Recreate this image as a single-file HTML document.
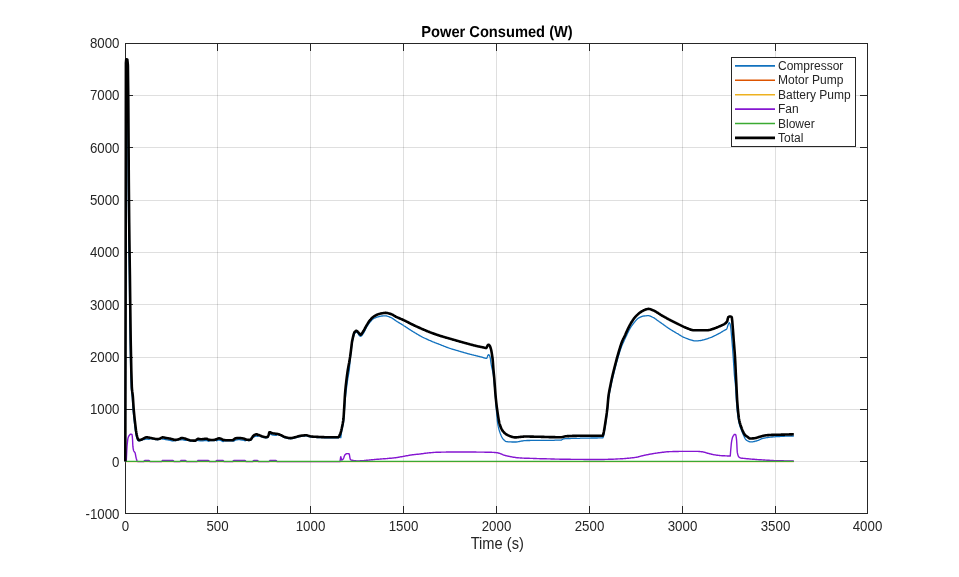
<!DOCTYPE html>
<html><head><meta charset="utf-8"><style>
html,body{margin:0;padding:0;background:#fff;width:959px;height:577px;overflow:hidden;}
svg{display:block;will-change:transform;}
text{font-family:"Liberation Sans",sans-serif;}
</style></head><body>
<svg width="959" height="577" viewBox="0 0 959 577"><rect x="0" y="0" width="959" height="577" fill="#ffffff"/><path d="M217.5,43 V513" stroke="#262626" stroke-opacity="0.15" stroke-width="1" fill="none" shape-rendering="crispEdges"/><path d="M310.5,43 V513" stroke="#262626" stroke-opacity="0.15" stroke-width="1" fill="none" shape-rendering="crispEdges"/><path d="M403.5,43 V513" stroke="#262626" stroke-opacity="0.15" stroke-width="1" fill="none" shape-rendering="crispEdges"/><path d="M496.5,43 V513" stroke="#262626" stroke-opacity="0.15" stroke-width="1" fill="none" shape-rendering="crispEdges"/><path d="M589.5,43 V513" stroke="#262626" stroke-opacity="0.15" stroke-width="1" fill="none" shape-rendering="crispEdges"/><path d="M682.5,43 V513" stroke="#262626" stroke-opacity="0.15" stroke-width="1" fill="none" shape-rendering="crispEdges"/><path d="M775.5,43 V513" stroke="#262626" stroke-opacity="0.15" stroke-width="1" fill="none" shape-rendering="crispEdges"/><path d="M125,95.5 H867" stroke="#262626" stroke-opacity="0.15" stroke-width="1" fill="none" shape-rendering="crispEdges"/><path d="M125,147.5 H867" stroke="#262626" stroke-opacity="0.15" stroke-width="1" fill="none" shape-rendering="crispEdges"/><path d="M125,200.5 H867" stroke="#262626" stroke-opacity="0.15" stroke-width="1" fill="none" shape-rendering="crispEdges"/><path d="M125,252.5 H867" stroke="#262626" stroke-opacity="0.15" stroke-width="1" fill="none" shape-rendering="crispEdges"/><path d="M125,304.5 H867" stroke="#262626" stroke-opacity="0.15" stroke-width="1" fill="none" shape-rendering="crispEdges"/><path d="M125,357.5 H867" stroke="#262626" stroke-opacity="0.15" stroke-width="1" fill="none" shape-rendering="crispEdges"/><path d="M125,409.5 H867" stroke="#262626" stroke-opacity="0.15" stroke-width="1" fill="none" shape-rendering="crispEdges"/><path d="M125,461.5 H867" stroke="#262626" stroke-opacity="0.15" stroke-width="1" fill="none" shape-rendering="crispEdges"/><path d="M125.5,43.5 H867.5 V513.5 H125.5 Z M125.5,513 v-7 M125.5,44 v7 M217.5,513 v-7 M217.5,44 v7 M310.5,513 v-7 M310.5,44 v7 M403.5,513 v-7 M403.5,44 v7 M496.5,513 v-7 M496.5,44 v7 M589.5,513 v-7 M589.5,44 v7 M682.5,513 v-7 M682.5,44 v7 M775.5,513 v-7 M775.5,44 v7 M867.5,513 v-7 M867.5,44 v7 M126,43.5 h7 M867,43.5 h-7 M126,95.5 h7 M867,95.5 h-7 M126,147.5 h7 M867,147.5 h-7 M126,200.5 h7 M867,200.5 h-7 M126,252.5 h7 M867,252.5 h-7 M126,304.5 h7 M867,304.5 h-7 M126,357.5 h7 M867,357.5 h-7 M126,409.5 h7 M867,409.5 h-7 M126,461.5 h7 M867,461.5 h-7 M126,513.5 h7 M867,513.5 h-7" stroke="#262626" stroke-width="1" fill="none" shape-rendering="crispEdges"/><g fill="none" stroke-linejoin="round" stroke-linecap="butt"><path d="M125.3,461.5 L125.6,300.7 L125.8,150.8 L125.9,63.9 L126.2,60.7 L126.3,61.1 L126.8,71.3 L127.0,61.8 L127.3,66.5 L127.8,113.9 L127.9,130.6 L128.3,192.4 L128.8,240.5 L129.2,268.4 L129.3,275.5 L129.4,283.4 L129.8,318.8 L129.9,327.0 L130.3,351.3 L130.7,370.6 L130.8,374.7 L131.3,388.5 L131.8,393.2 L131.9,393.9 L132.0,394.6 L132.3,397.7 L132.6,402.3 L132.8,405.6 L132.9,407.2 L133.3,412.2 L133.7,416.2 L133.8,417.2 L134.3,421.6 L134.8,426.1 L135.0,427.8 L135.1,428.6 L135.3,430.2 L135.8,433.5 L136.0,434.5 L136.3,436.0 L136.8,437.9 L137.0,438.5 L137.3,439.3 L137.6,440.0 L137.8,440.4 L138.0,440.6 L138.3,440.7 L138.8,440.8 L138.8,440.8 L139.3,440.8 L139.8,440.7 L140.3,440.6 L140.8,440.4 L141.0,440.4 L141.2,440.3 L141.3,440.3 L141.8,440.1 L142.3,439.8 L142.8,439.6 L143.1,439.4 L143.3,439.3 L143.6,439.1 L143.8,439.1 L144.3,439.4 L144.8,439.5 L145.3,439.2 L145.8,439.1 L146.2,439.0 L146.3,439.0 L146.8,439.0 L147.3,439.1 L147.8,439.1 L148.3,439.2 L148.8,439.3 L149.0,439.3 L149.3,439.2 L149.4,439.1 L149.8,438.7 L150.2,438.4 L150.3,438.5 L150.8,438.6 L151.3,438.7 L151.8,438.8 L152.3,438.9 L152.8,439.0 L153.3,439.1 L153.8,439.2 L153.8,439.2 L154.3,439.3 L154.8,439.4 L155.3,439.5 L155.8,439.6 L156.3,439.6 L156.8,439.7 L157.3,439.7 L157.5,439.7 L157.8,439.7 L158.3,439.6 L158.8,439.5 L159.3,439.4 L159.8,439.3 L160.0,439.2 L160.3,439.1 L160.8,438.8 L161.3,438.5 L161.8,438.6 L162.3,439.0 L162.5,439.1 L162.8,439.1 L163.3,439.1 L163.8,439.2 L164.3,439.3 L164.8,439.4 L165.3,439.5 L165.8,439.6 L166.2,439.7 L166.3,439.7 L166.8,439.8 L167.3,439.9 L167.8,439.9 L168.3,440.0 L168.8,440.1 L169.3,440.2 L169.8,440.3 L170.0,440.3 L170.3,440.4 L170.8,440.5 L171.3,440.6 L171.8,440.8 L172.3,440.9 L172.5,440.9 L172.8,441.0 L173.0,441.1 L173.3,441.0 L173.8,440.6 L174.2,440.4 L174.3,440.4 L174.8,440.5 L175.0,440.5 L175.3,440.5 L175.8,440.5 L176.3,440.4 L176.8,440.3 L177.3,440.2 L177.8,440.1 L178.3,440.0 L178.8,439.8 L178.8,439.8 L179.3,439.7 L179.8,439.4 L180.3,439.6 L180.8,439.9 L181.0,439.9 L181.3,439.8 L181.8,439.7 L181.9,439.7 L182.3,439.7 L182.8,439.8 L183.3,439.9 L183.8,440.0 L184.3,440.1 L184.8,440.2 L185.0,440.3 L185.3,440.4 L185.5,440.4 L185.8,440.4 L186.3,439.9 L186.7,439.8 L186.8,439.9 L187.3,440.1 L187.8,440.3 L188.1,440.3 L188.3,440.4 L188.8,440.6 L189.3,440.7 L189.8,440.9 L190.3,441.0 L190.8,441.1 L191.2,441.1 L191.3,441.1 L191.8,441.1 L192.3,441.1 L192.8,441.2 L193.3,441.2 L193.8,441.2 L194.3,441.2 L194.8,441.2 L195.0,441.2 L195.3,441.2 L195.8,440.9 L196.3,440.6 L196.8,440.1 L197.3,440.2 L197.8,440.6 L198.0,440.6 L198.1,440.6 L198.3,440.6 L198.8,440.6 L199.3,440.7 L199.8,440.8 L200.3,440.9 L200.8,440.9 L201.2,440.9 L201.3,440.9 L201.8,440.9 L202.3,440.9 L202.8,440.8 L203.3,440.8 L203.8,440.7 L204.3,440.6 L204.8,440.6 L205.3,440.5 L205.8,440.5 L206.2,440.4 L206.3,440.5 L206.8,440.5 L207.3,440.7 L207.8,441.0 L208.3,441.3 L208.4,441.3 L208.8,441.2 L209.3,440.7 L209.4,440.6 L209.6,440.5 L209.8,440.5 L210.3,440.5 L210.8,440.6 L211.3,440.6 L211.8,440.6 L212.3,440.6 L212.8,440.6 L213.0,440.6 L213.3,440.6 L213.8,440.5 L214.3,440.5 L214.8,440.4 L215.3,440.3 L215.6,440.2 L215.6,440.2 L215.8,440.2 L216.3,440.6 L216.8,440.8 L217.3,440.5 L217.8,440.2 L218.3,440.1 L218.8,440.0 L218.8,440.0 L219.3,440.0 L219.8,440.1 L220.3,440.3 L220.8,440.4 L221.2,440.6 L221.3,440.6 L221.8,440.9 L222.3,441.2 L222.8,441.5 L223.0,441.6 L223.1,441.6 L223.3,441.5 L223.8,440.9 L224.2,440.7 L224.3,440.7 L224.8,440.7 L225.3,440.8 L225.8,440.8 L226.2,440.8 L226.3,440.8 L226.8,440.8 L227.3,440.8 L227.8,440.8 L228.3,440.8 L228.8,440.8 L229.3,440.8 L229.8,440.8 L230.3,440.8 L230.8,440.8 L231.3,440.8 L231.8,440.8 L232.3,440.8 L232.5,440.8 L232.6,440.8 L232.8,440.8 L233.3,441.2 L233.8,441.2 L234.3,440.8 L234.8,440.4 L235.3,440.1 L235.6,440.0 L235.8,440.0 L236.3,439.9 L236.8,439.8 L237.3,439.8 L237.8,439.7 L238.3,439.7 L238.8,439.7 L238.8,439.7 L239.3,439.7 L239.8,439.7 L240.3,439.8 L240.8,439.8 L241.3,439.9 L241.8,440.0 L242.3,440.0 L242.8,440.1 L243.3,440.2 L243.8,440.3 L243.8,440.3 L244.3,440.5 L244.8,440.7 L245.0,440.8 L245.3,440.8 L245.8,440.4 L246.2,440.2 L246.2,440.2 L246.3,440.2 L246.8,440.3 L247.3,440.4 L247.8,440.4 L248.3,440.5 L248.8,440.5 L249.3,440.5 L249.8,440.4 L250.3,440.3 L250.6,440.2 L250.8,440.1 L251.3,439.5 L251.8,438.6 L252.3,437.8 L252.5,437.5 L252.6,437.4 L252.8,437.2 L253.3,437.2 L253.8,437.1 L254.3,436.8 L254.4,436.7 L254.8,436.5 L255.3,436.3 L255.8,436.1 L256.2,436.1 L256.3,436.1 L256.8,436.1 L257.3,436.3 L257.5,436.3 L257.8,436.2 L258.2,435.8 L258.3,435.7 L258.7,435.6 L258.8,435.6 L259.3,435.8 L259.8,436.0 L260.3,436.2 L260.8,436.4 L261.3,436.7 L261.8,436.9 L262.3,437.0 L262.5,437.1 L262.8,437.2 L263.3,437.3 L263.8,437.5 L264.3,437.6 L264.8,437.7 L265.3,437.8 L265.6,437.8 L265.8,437.8 L266.3,437.8 L266.8,437.7 L267.3,437.6 L267.5,437.6 L267.8,437.4 L268.3,436.3 L268.8,435.0 L269.3,433.3 L269.4,433.3 L269.8,433.9 L270.0,434.0 L270.2,434.0 L270.3,434.0 L270.8,434.2 L271.3,434.5 L271.8,434.8 L271.9,434.8 L272.3,434.9 L272.8,435.0 L273.3,435.1 L273.8,435.2 L274.3,435.2 L274.8,435.3 L275.3,435.4 L275.8,435.4 L276.0,435.4 L276.3,435.3 L276.8,434.7 L277.2,434.5 L277.3,434.5 L277.8,434.6 L278.1,434.7 L278.3,434.7 L278.8,434.9 L279.3,435.1 L279.8,435.3 L280.3,435.5 L280.8,435.7 L281.3,435.9 L281.8,436.1 L282.3,436.4 L282.8,436.7 L283.3,437.0 L283.8,437.3 L284.3,437.5 L284.4,437.5 L284.8,437.6 L285.3,437.8 L285.8,437.9 L286.3,438.0 L286.8,438.2 L287.3,438.3 L287.8,438.4 L288.3,438.5 L288.8,438.6 L289.3,438.6 L289.8,438.7 L290.3,438.7 L290.6,438.7 L290.8,438.7 L291.3,438.7 L291.8,438.6 L292.3,438.5 L292.8,438.4 L293.3,438.3 L293.8,438.2 L294.3,438.1 L294.8,437.9 L295.0,437.9 L295.3,437.8 L295.8,437.7 L296.3,437.5 L296.8,437.4 L297.3,437.2 L297.8,437.1 L298.3,436.9 L298.8,436.8 L299.3,436.6 L299.8,436.5 L300.0,436.5 L300.3,436.5 L300.8,436.4 L301.3,436.3 L301.8,436.2 L302.3,436.2 L302.8,436.1 L303.3,436.1 L303.8,436.0 L304.3,436.0 L304.8,435.9 L305.3,435.9 L305.8,435.9 L306.2,435.9 L306.3,435.9 L306.8,435.9 L307.3,436.0 L307.8,436.2 L308.3,436.4 L308.8,436.5 L309.3,436.7 L309.8,436.8 L310.0,436.8 L310.3,436.9 L310.8,437.0 L311.3,437.1 L311.8,437.1 L312.3,437.2 L312.6,437.2 L312.8,437.2 L313.3,437.3 L313.8,437.3 L314.3,437.3 L314.8,437.4 L315.3,437.4 L315.8,437.4 L316.3,437.4 L316.8,437.5 L317.3,437.5 L317.8,437.5 L318.3,437.5 L318.8,437.6 L319.3,437.6 L319.8,437.6 L320.3,437.6 L320.8,437.6 L321.3,437.7 L321.8,437.7 L322.3,437.7 L322.6,437.7 L322.8,437.7 L323.3,437.7 L323.8,437.7 L324.3,437.8 L324.8,437.8 L325.3,437.8 L325.8,437.8 L326.3,437.8 L326.8,437.8 L327.3,437.8 L327.8,437.9 L328.3,437.9 L328.8,437.9 L329.3,437.9 L329.8,437.9 L330.3,437.9 L330.8,437.9 L331.3,437.9 L331.4,437.9 L331.8,437.9 L332.3,437.9 L332.8,437.9 L333.3,437.9 L333.8,437.9 L334.3,437.9 L334.8,437.9 L335.3,437.9 L335.8,437.9 L336.3,437.9 L336.8,437.9 L337.3,437.9 L337.8,437.9 L338.3,437.9 L338.8,437.4 L339.3,436.5 L339.5,436.1 L339.8,435.5 L339.9,435.3 L340.3,436.3 L340.5,437.3 L340.8,437.7 L341.3,433.9 L341.7,430.8 L341.8,430.4 L342.3,428.2 L342.8,426.1 L343.1,424.7 L343.3,423.5 L343.5,422.3 L343.8,419.0 L344.1,414.8 L344.3,412.0 L344.8,404.3 L345.0,401.7 L345.3,398.4 L345.8,393.8 L346.2,390.5 L346.3,389.7 L346.8,385.7 L346.9,384.9 L347.3,382.0 L347.8,378.6 L348.3,375.6 L348.8,372.9 L349.2,370.7 L349.3,370.0 L349.7,365.3 L349.8,364.0 L350.2,359.3 L350.3,358.4 L350.8,354.2 L350.9,353.3 L351.3,349.8 L351.6,347.0 L351.8,345.3 L352.1,343.2 L352.3,342.1 L352.8,339.8 L353.3,337.5 L353.8,335.5 L354.3,334.1 L354.4,333.9 L354.8,333.4 L355.3,332.8 L355.8,332.4 L356.3,332.2 L356.4,332.1 L356.8,332.2 L357.3,332.6 L357.8,333.2 L358.1,333.5 L358.3,334.0 L358.8,334.9 L359.3,335.5 L359.8,336.0 L360.3,336.3 L360.6,336.3 L360.8,336.3 L361.3,336.0 L361.8,335.5 L362.3,334.9 L362.8,334.2 L363.3,333.5 L363.8,332.7 L364.3,331.8 L364.8,330.8 L365.3,329.7 L365.8,328.6 L366.3,327.6 L366.7,326.9 L366.8,326.7 L367.3,325.9 L367.5,325.6 L367.8,325.2 L368.3,324.4 L368.8,323.7 L369.3,323.1 L369.8,322.4 L370.0,322.2 L370.3,321.8 L370.8,321.2 L371.3,320.7 L371.8,320.1 L372.3,319.6 L372.8,319.2 L373.3,318.8 L373.8,318.5 L374.3,318.2 L374.8,318.0 L375.3,317.8 L375.8,317.6 L376.3,317.4 L376.8,317.2 L376.9,317.2 L377.3,317.0 L377.8,316.9 L378.3,316.8 L378.8,316.6 L379.3,316.5 L379.8,316.4 L380.3,316.3 L380.8,316.2 L381.3,316.1 L381.8,316.0 L382.0,316.0 L382.3,316.0 L382.8,315.9 L383.3,315.9 L383.8,315.8 L384.3,315.8 L384.8,315.8 L385.3,315.8 L385.8,315.8 L386.3,315.9 L386.8,316.0 L387.3,316.2 L387.8,316.3 L388.3,316.5 L388.8,316.7 L389.3,316.9 L389.8,317.1 L390.3,317.3 L390.8,317.5 L391.3,317.7 L391.8,318.0 L392.3,318.3 L392.8,318.6 L393.3,318.9 L393.8,319.3 L394.3,319.6 L394.8,320.0 L395.3,320.4 L395.7,320.6 L395.8,320.7 L396.3,321.0 L396.7,321.3 L396.8,321.4 L397.3,321.7 L397.8,322.0 L398.3,322.3 L398.8,322.6 L399.3,322.9 L399.8,323.2 L400.3,323.5 L400.8,323.8 L401.3,324.1 L401.8,324.4 L402.3,324.7 L402.8,325.0 L403.2,325.3 L403.3,325.3 L403.4,325.4 L403.8,325.7 L404.3,326.0 L404.8,326.3 L405.3,326.6 L405.8,326.9 L406.3,327.3 L406.8,327.6 L407.3,327.9 L407.8,328.3 L408.3,328.6 L408.8,328.9 L409.3,329.3 L409.8,329.6 L410.3,329.9 L410.8,330.2 L411.3,330.5 L411.8,330.9 L412.3,331.2 L412.5,331.3 L412.8,331.5 L413.3,331.8 L413.8,332.1 L414.3,332.4 L414.8,332.7 L415.3,333.0 L415.8,333.3 L416.3,333.6 L416.8,333.9 L417.3,334.2 L417.8,334.5 L418.3,334.8 L418.8,335.1 L419.3,335.4 L419.8,335.7 L420.0,335.8 L420.3,336.0 L420.8,336.2 L421.3,336.5 L421.7,336.7 L421.8,336.8 L422.3,337.0 L422.8,337.3 L423.3,337.5 L423.8,337.8 L424.3,338.0 L424.8,338.2 L425.3,338.5 L425.8,338.7 L426.3,338.9 L426.8,339.2 L427.3,339.4 L427.8,339.6 L428.3,339.8 L428.8,340.1 L429.3,340.3 L429.4,340.3 L429.8,340.5 L430.3,340.7 L430.8,340.9 L431.3,341.1 L431.7,341.3 L431.8,341.3 L432.3,341.6 L432.8,341.8 L433.3,342.0 L433.8,342.2 L434.3,342.4 L434.8,342.6 L435.3,342.8 L435.8,343.0 L436.3,343.2 L436.8,343.4 L437.3,343.6 L437.8,343.7 L438.3,343.9 L438.8,344.1 L439.3,344.3 L439.8,344.5 L440.3,344.7 L440.8,344.9 L441.3,345.1 L441.7,345.3 L441.8,345.3 L442.3,345.5 L442.8,345.7 L443.3,345.9 L443.8,346.1 L444.3,346.3 L444.8,346.5 L445.3,346.7 L445.8,346.9 L446.3,347.1 L446.8,347.3 L447.3,347.4 L447.8,347.6 L448.3,347.8 L448.8,348.0 L449.3,348.2 L449.8,348.3 L450.0,348.4 L450.3,348.5 L450.8,348.7 L451.3,348.8 L451.8,349.0 L452.3,349.1 L452.8,349.3 L453.3,349.4 L453.8,349.6 L454.3,349.7 L454.8,349.9 L455.3,350.0 L455.8,350.2 L456.3,350.3 L456.8,350.4 L457.3,350.6 L457.8,350.7 L458.3,350.9 L458.7,351.0 L458.8,351.0 L459.3,351.2 L459.8,351.3 L460.3,351.5 L460.8,351.6 L461.3,351.8 L461.8,351.9 L462.3,352.1 L462.8,352.2 L463.3,352.4 L463.8,352.5 L464.3,352.7 L464.8,352.8 L465.3,352.9 L465.8,353.1 L466.3,353.2 L466.8,353.4 L466.9,353.4 L467.3,353.5 L467.8,353.6 L468.3,353.8 L468.8,353.9 L469.3,354.0 L469.8,354.2 L470.3,354.3 L470.8,354.4 L471.3,354.5 L471.8,354.7 L472.3,354.8 L472.8,354.9 L473.3,355.0 L473.8,355.2 L474.3,355.3 L474.8,355.4 L475.3,355.5 L475.8,355.6 L476.0,355.7 L476.3,355.8 L476.8,355.9 L477.3,356.0 L477.8,356.1 L478.3,356.3 L478.8,356.4 L479.3,356.5 L479.8,356.6 L480.3,356.8 L480.8,356.9 L481.0,356.9 L481.3,357.0 L481.8,357.1 L482.2,357.2 L482.3,357.3 L482.8,357.4 L483.3,357.6 L483.8,357.8 L484.3,357.9 L484.8,358.1 L485.3,358.2 L485.8,358.3 L486.3,358.4 L486.8,358.2 L487.3,357.0 L487.6,356.1 L487.8,355.6 L488.3,354.7 L488.4,354.7 L488.8,354.8 L489.3,355.3 L489.7,355.9 L489.8,356.1 L490.3,358.0 L490.5,359.4 L490.8,362.0 L491.3,364.9 L491.8,367.4 L492.0,368.3 L492.3,369.6 L492.6,370.9 L492.8,371.8 L493.3,374.5 L493.4,375.1 L493.8,378.4 L494.3,383.7 L494.4,384.8 L494.8,389.2 L494.9,390.4 L495.0,391.6 L495.3,395.2 L495.8,401.7 L495.9,403.1 L496.3,408.9 L496.8,414.9 L497.3,420.4 L497.4,421.3 L497.8,424.1 L498.3,426.7 L498.8,428.8 L499.3,430.6 L499.5,431.2 L499.7,431.8 L499.8,432.1 L500.3,433.5 L500.8,434.7 L501.3,435.9 L501.8,437.0 L502.3,437.9 L502.6,438.4 L502.8,438.7 L503.3,439.3 L503.8,439.8 L504.3,440.3 L504.4,440.4 L504.8,440.7 L505.3,441.1 L505.8,441.4 L506.3,441.6 L506.8,441.7 L507.3,441.7 L507.4,441.7 L507.8,441.8 L508.3,441.8 L508.8,441.8 L509.3,441.9 L509.8,441.9 L510.0,441.9 L510.3,441.9 L510.8,441.9 L511.3,441.9 L511.8,442.0 L512.3,442.0 L512.8,442.0 L513.3,442.0 L513.8,442.0 L514.3,442.0 L514.7,442.0 L514.8,442.0 L515.3,442.0 L515.8,442.0 L516.3,442.0 L516.8,441.9 L517.3,441.8 L517.8,441.8 L518.3,441.7 L518.8,441.6 L519.3,441.5 L519.4,441.5 L519.8,441.4 L520.3,441.3 L520.8,441.2 L521.3,441.1 L521.4,441.1 L521.8,441.0 L522.3,441.0 L522.8,440.9 L523.3,440.8 L523.8,440.7 L524.3,440.7 L524.8,440.6 L525.2,440.6 L525.3,440.6 L525.8,440.6 L526.3,440.6 L526.8,440.5 L527.3,440.5 L527.8,440.5 L528.3,440.5 L528.8,440.5 L529.3,440.5 L529.8,440.5 L530.3,440.4 L530.8,440.4 L531.3,440.4 L531.8,440.4 L532.3,440.4 L532.8,440.4 L533.3,440.4 L533.8,440.4 L534.3,440.4 L534.8,440.4 L535.3,440.4 L535.6,440.4 L535.8,440.3 L536.3,440.3 L536.8,440.3 L537.3,440.3 L537.8,440.3 L538.1,440.3 L538.3,440.3 L538.8,440.3 L539.3,440.3 L539.8,440.3 L540.3,440.3 L540.8,440.3 L541.3,440.3 L541.8,440.3 L542.3,440.3 L542.8,440.3 L543.3,440.3 L543.8,440.3 L544.3,440.3 L544.8,440.3 L545.3,440.3 L545.8,440.3 L546.3,440.3 L546.8,440.3 L547.3,440.3 L547.8,440.3 L548.3,440.3 L548.8,440.3 L549.3,440.3 L549.8,440.3 L550.3,440.3 L550.8,440.3 L551.3,440.3 L551.8,440.3 L552.3,440.3 L552.8,440.3 L553.3,440.3 L553.8,440.3 L554.3,440.3 L554.8,440.2 L555.3,440.2 L555.8,440.2 L556.3,440.2 L556.8,440.2 L556.9,440.2 L557.3,440.2 L557.8,440.2 L558.3,440.2 L558.8,440.2 L559.3,440.2 L559.8,440.2 L560.3,440.2 L560.8,440.2 L561.3,440.1 L561.7,439.9 L561.8,439.8 L562.3,439.5 L562.8,439.2 L563.3,438.9 L563.8,438.8 L564.3,438.8 L564.8,438.7 L565.3,438.7 L565.8,438.7 L565.9,438.7 L566.3,438.6 L566.8,438.6 L567.3,438.6 L567.8,438.6 L568.3,438.5 L568.8,438.5 L569.3,438.5 L569.8,438.5 L570.3,438.5 L570.8,438.4 L571.3,438.4 L571.8,438.4 L572.3,438.4 L572.8,438.4 L573.3,438.4 L573.8,438.4 L574.3,438.3 L574.8,438.3 L575.3,438.3 L575.7,438.3 L575.8,438.3 L576.3,438.3 L576.8,438.3 L577.3,438.3 L577.8,438.3 L578.3,438.3 L578.8,438.3 L579.3,438.3 L579.8,438.3 L580.3,438.2 L580.8,438.2 L581.3,438.2 L581.8,438.2 L582.3,438.2 L582.6,438.2 L582.8,438.2 L583.3,438.2 L583.8,438.2 L584.3,438.2 L584.8,438.2 L585.3,438.1 L585.8,438.1 L586.3,438.1 L586.8,438.1 L587.3,438.1 L587.8,438.1 L588.3,438.1 L588.8,438.1 L589.3,438.1 L589.8,438.1 L590.3,438.1 L590.8,438.0 L591.3,438.0 L591.8,438.0 L592.3,438.0 L592.8,438.0 L593.3,438.0 L593.8,438.0 L594.3,438.0 L594.8,438.0 L595.3,438.0 L595.8,438.0 L596.3,438.0 L596.8,438.0 L597.3,438.0 L597.8,437.9 L598.3,437.9 L598.8,437.9 L599.3,437.9 L599.8,437.9 L600.0,437.9 L600.3,437.9 L600.8,437.9 L601.3,437.9 L601.8,437.9 L602.3,437.9 L602.6,437.9 L602.8,437.9 L603.3,437.0 L603.8,434.9 L604.3,432.0 L604.8,429.1 L605.3,425.8 L605.6,423.8 L605.8,422.5 L606.3,419.2 L606.8,415.7 L607.2,412.1 L607.3,411.7 L607.8,406.2 L608.3,400.6 L608.5,398.9 L608.8,396.8 L609.3,393.9 L609.8,391.3 L610.1,389.8 L610.3,388.8 L610.8,386.3 L611.3,384.0 L611.8,381.7 L612.3,379.5 L612.8,377.4 L613.3,375.4 L613.8,373.4 L614.3,371.4 L614.8,369.5 L614.9,369.1 L615.3,367.6 L615.8,365.6 L616.3,363.7 L616.8,361.9 L617.2,360.4 L617.3,360.1 L617.8,358.3 L618.3,356.6 L618.8,354.9 L619.3,353.3 L619.8,351.6 L620.3,350.1 L620.7,348.9 L620.8,348.6 L621.3,347.2 L621.8,345.8 L622.3,344.7 L622.7,343.8 L622.8,343.6 L623.3,342.5 L623.8,341.4 L624.3,340.3 L624.5,339.8 L624.8,339.2 L625.3,338.1 L625.8,337.0 L626.3,336.0 L626.8,334.9 L627.3,333.8 L627.8,332.8 L628.0,332.4 L628.3,331.7 L628.8,330.7 L629.3,329.8 L629.8,328.9 L630.3,328.0 L630.8,327.2 L631.3,326.4 L631.8,325.7 L632.2,325.1 L632.3,325.0 L632.8,324.3 L633.3,323.6 L633.8,323.0 L634.3,322.4 L634.8,321.8 L635.3,321.2 L635.6,320.8 L635.8,320.6 L636.3,320.0 L636.4,319.9 L636.8,319.5 L637.3,319.0 L637.8,318.6 L638.3,318.2 L638.8,317.9 L639.3,317.7 L639.8,317.4 L640.3,317.2 L640.8,316.9 L641.0,316.9 L641.3,316.7 L641.8,316.5 L642.2,316.4 L642.3,316.4 L642.8,316.2 L643.3,316.1 L643.8,316.0 L644.3,316.0 L644.8,315.9 L645.3,315.9 L645.5,315.8 L645.8,315.8 L646.3,315.8 L646.8,315.7 L647.3,315.7 L647.8,315.7 L648.3,315.7 L648.6,315.7 L648.8,315.7 L649.3,315.8 L649.8,315.9 L650.3,316.1 L650.8,316.3 L651.3,316.5 L651.6,316.7 L651.8,316.8 L652.3,317.0 L652.8,317.3 L653.3,317.5 L653.8,317.8 L654.3,318.1 L654.8,318.4 L655.3,318.8 L655.8,319.1 L656.3,319.5 L656.8,319.9 L657.3,320.3 L657.8,320.6 L658.3,321.0 L658.8,321.3 L659.3,321.7 L659.8,322.0 L660.3,322.4 L660.8,322.7 L661.0,322.9 L661.3,323.1 L661.7,323.4 L661.8,323.4 L662.3,323.8 L662.8,324.1 L663.3,324.5 L663.8,324.9 L664.3,325.2 L664.8,325.6 L665.3,325.9 L665.8,326.3 L666.3,326.7 L666.8,327.0 L667.3,327.4 L667.8,327.7 L668.3,328.1 L668.8,328.4 L669.3,328.7 L669.8,329.1 L670.0,329.2 L670.3,329.4 L670.4,329.5 L670.8,329.7 L671.3,330.0 L671.8,330.3 L672.3,330.6 L672.8,330.9 L673.3,331.2 L673.8,331.5 L674.3,331.8 L674.8,332.1 L675.3,332.4 L675.8,332.7 L676.3,333.0 L676.8,333.3 L677.3,333.5 L677.8,333.8 L678.3,334.1 L678.4,334.2 L678.8,334.4 L679.3,334.8 L679.8,335.1 L680.3,335.4 L680.8,335.7 L681.3,336.0 L681.8,336.3 L682.3,336.6 L682.8,336.8 L683.3,337.1 L683.8,337.3 L684.3,337.5 L684.8,337.7 L685.3,338.0 L685.8,338.2 L686.3,338.3 L686.7,338.5 L686.8,338.5 L687.3,338.7 L687.8,338.9 L688.3,339.1 L688.8,339.3 L689.3,339.5 L689.8,339.6 L690.3,339.8 L690.8,339.9 L691.3,340.1 L691.8,340.2 L692.3,340.4 L692.8,340.5 L693.3,340.6 L693.4,340.7 L693.8,340.8 L694.3,340.8 L694.8,340.9 L695.3,340.9 L695.8,340.9 L696.3,340.9 L696.8,340.9 L697.0,340.8 L697.3,340.8 L697.8,340.8 L698.3,340.8 L698.8,340.7 L699.2,340.7 L699.3,340.7 L699.8,340.6 L700.3,340.6 L700.8,340.5 L701.3,340.4 L701.8,340.3 L702.3,340.2 L702.4,340.1 L702.8,340.0 L703.3,339.9 L703.8,339.8 L704.3,339.7 L704.8,339.5 L705.3,339.4 L705.8,339.2 L706.3,339.1 L706.8,338.9 L707.1,338.8 L707.3,338.8 L707.6,338.7 L707.8,338.6 L708.3,338.4 L708.8,338.2 L709.3,338.0 L709.8,337.8 L710.3,337.7 L710.8,337.5 L711.3,337.3 L711.8,337.1 L712.3,336.9 L712.8,336.6 L713.3,336.4 L713.4,336.4 L713.8,336.2 L713.9,336.1 L714.3,335.9 L714.8,335.7 L715.3,335.5 L715.8,335.2 L716.3,334.9 L716.8,334.7 L717.3,334.4 L717.8,334.2 L718.3,333.9 L718.8,333.6 L719.3,333.3 L719.8,333.1 L720.3,332.8 L720.7,332.6 L720.8,332.5 L721.3,332.2 L721.8,331.9 L722.3,331.6 L722.8,331.3 L723.3,331.0 L723.8,330.7 L724.3,330.4 L724.7,330.2 L724.8,330.1 L725.3,329.9 L725.8,329.6 L726.3,329.4 L726.8,328.8 L727.1,328.0 L727.3,327.4 L727.8,325.8 L728.3,324.4 L728.8,323.2 L729.3,322.6 L729.8,323.3 L730.2,324.4 L730.3,324.8 L730.7,327.3 L730.8,328.1 L731.3,333.3 L731.5,335.6 L731.7,338.0 L731.8,339.1 L732.3,344.9 L732.5,347.5 L732.8,351.5 L732.9,352.9 L733.3,358.5 L733.6,363.2 L733.8,366.3 L734.3,373.7 L734.5,376.1 L734.8,379.1 L735.0,380.9 L735.3,383.6 L735.6,387.0 L735.8,390.1 L735.9,391.9 L736.3,399.0 L736.5,401.9 L736.6,403.3 L736.8,405.9 L737.1,409.5 L737.3,411.4 L737.8,415.4 L738.1,417.6 L738.3,418.9 L738.8,421.7 L739.0,422.6 L739.2,423.5 L739.3,423.9 L739.8,425.7 L740.3,427.3 L740.8,428.6 L741.3,429.8 L741.7,430.8 L741.8,431.0 L742.3,432.2 L742.8,433.5 L743.2,434.4 L743.3,434.7 L743.8,435.8 L744.3,436.9 L744.8,437.9 L745.0,438.3 L745.3,438.8 L745.8,439.5 L746.3,440.1 L746.8,440.5 L747.3,440.7 L747.4,440.8 L747.8,441.0 L748.3,441.2 L748.8,441.5 L749.3,441.6 L749.8,441.8 L750.0,441.8 L750.3,441.9 L750.8,441.9 L751.3,441.9 L751.8,441.9 L752.3,441.8 L752.8,441.8 L753.3,441.7 L753.8,441.6 L754.2,441.5 L754.3,441.5 L754.8,441.4 L755.3,441.2 L755.8,441.1 L756.3,441.0 L756.8,440.9 L757.3,440.7 L757.8,440.5 L758.3,440.3 L758.8,440.1 L759.3,439.8 L759.8,439.6 L760.0,439.5 L760.3,439.4 L760.8,439.1 L761.3,438.9 L761.8,438.7 L762.3,438.6 L762.5,438.5 L762.8,438.4 L763.3,438.3 L763.8,438.2 L764.3,438.1 L764.8,438.0 L765.3,437.9 L765.8,437.8 L766.3,437.7 L766.7,437.6 L766.8,437.6 L767.3,437.5 L767.8,437.5 L768.3,437.4 L768.8,437.3 L769.3,437.3 L769.8,437.2 L770.3,437.2 L770.8,437.1 L771.3,437.1 L771.8,437.0 L772.3,437.0 L772.8,436.9 L773.3,436.9 L773.8,436.8 L774.3,436.8 L774.8,436.8 L775.0,436.8 L775.3,436.7 L775.8,436.7 L776.3,436.7 L776.8,436.6 L777.3,436.6 L777.8,436.6 L778.3,436.5 L778.8,436.5 L779.3,436.5 L779.8,436.5 L780.3,436.4 L780.8,436.4 L781.3,436.4 L781.8,436.4 L782.3,436.3 L782.8,436.3 L783.3,436.3 L783.4,436.3 L783.8,436.3 L784.3,436.3 L784.8,436.2 L785.3,436.2 L785.8,436.2 L786.3,436.2 L786.8,436.2 L787.3,436.2 L787.8,436.1 L788.3,436.1 L788.8,436.1 L789.3,436.1 L789.8,436.1 L790.3,436.1 L790.8,436.1 L791.3,436.0 L791.8,436.0 L792.3,436.0 L792.8,436.0 L793.3,436.0 L793.8,436.0" stroke="#1171BE" stroke-width="1.3"/><path d="M125.3,461.6 L793.8,461.6" stroke="#DD5400" stroke-width="1.0"/><path d="M125.3,461.6 L793.8,461.6" stroke="#EDB120" stroke-width="1.0"/><path d="M125.3,461.6 L125.6,461.5 L125.8,461.4 L125.9,461.3 L126.2,461.0 L126.3,460.4 L126.8,450.2 L127.0,446.7 L127.3,443.3 L127.8,439.1 L127.9,438.6 L128.3,437.3 L128.8,436.1 L129.2,435.5 L129.3,435.4 L129.4,435.2 L129.8,434.8 L129.9,434.7 L130.3,434.3 L130.7,434.2 L130.8,434.2 L131.3,434.3 L131.8,434.4 L131.9,434.5 L132.0,434.5 L132.3,436.5 L132.6,440.5 L132.8,445.0 L132.9,446.7 L133.3,449.3 L133.7,450.8 L133.8,451.0 L134.3,451.8 L134.8,452.4 L135.0,452.7 L135.1,452.9 L135.3,453.6 L135.8,456.3 L136.0,457.3 L136.3,458.5 L136.8,460.2 L137.0,460.6 L137.3,461.0 L137.6,461.4 L137.8,461.5 L138.0,461.6 L138.3,461.6 L138.8,461.6 L138.8,461.6 L139.3,461.6 L139.8,461.6 L140.3,461.6 L140.8,461.6 L141.0,461.6 L141.2,461.6 L141.3,461.6 L141.8,461.6 L142.3,461.6 L142.8,461.6 L143.1,461.6 L143.3,461.6 L143.6,461.6 L143.8,461.5 L144.3,460.9 L144.8,460.5 L145.3,460.5 L145.8,460.5 L146.2,460.5 L146.3,460.5 L146.8,460.5 L147.3,460.5 L147.8,460.5 L148.3,460.5 L148.8,460.5 L149.0,460.5 L149.3,460.7 L149.4,460.8 L149.8,461.3 L150.2,461.6 L150.3,461.6 L150.8,461.6 L151.3,461.6 L151.8,461.6 L152.3,461.6 L152.8,461.6 L153.3,461.6 L153.8,461.6 L153.8,461.6 L154.3,461.6 L154.8,461.6 L155.3,461.6 L155.8,461.6 L156.3,461.6 L156.8,461.6 L157.3,461.6 L157.5,461.6 L157.8,461.6 L158.3,461.6 L158.8,461.6 L159.3,461.6 L159.8,461.6 L160.0,461.6 L160.3,461.6 L160.8,461.6 L161.3,461.6 L161.8,461.2 L162.3,460.6 L162.5,460.5 L162.8,460.5 L163.3,460.5 L163.8,460.5 L164.3,460.5 L164.8,460.5 L165.3,460.5 L165.8,460.5 L166.2,460.5 L166.3,460.5 L166.8,460.5 L167.3,460.5 L167.8,460.5 L168.3,460.5 L168.8,460.5 L169.3,460.5 L169.8,460.5 L170.0,460.5 L170.3,460.5 L170.8,460.5 L171.3,460.5 L171.8,460.5 L172.3,460.5 L172.5,460.5 L172.8,460.5 L173.0,460.5 L173.3,460.7 L173.8,461.3 L174.2,461.6 L174.3,461.6 L174.8,461.6 L175.0,461.6 L175.3,461.6 L175.8,461.6 L176.3,461.6 L176.8,461.6 L177.3,461.6 L177.8,461.6 L178.3,461.6 L178.8,461.6 L178.8,461.6 L179.3,461.6 L179.8,461.6 L180.3,461.2 L180.8,460.6 L181.0,460.5 L181.3,460.5 L181.8,460.5 L181.9,460.5 L182.3,460.5 L182.8,460.5 L183.3,460.5 L183.8,460.5 L184.3,460.5 L184.8,460.5 L185.0,460.5 L185.3,460.5 L185.5,460.5 L185.8,460.7 L186.3,461.3 L186.7,461.6 L186.8,461.6 L187.3,461.6 L187.8,461.6 L188.1,461.6 L188.3,461.6 L188.8,461.6 L189.3,461.6 L189.8,461.6 L190.3,461.6 L190.8,461.6 L191.2,461.6 L191.3,461.6 L191.8,461.6 L192.3,461.6 L192.8,461.6 L193.3,461.6 L193.8,461.6 L194.3,461.6 L194.8,461.6 L195.0,461.6 L195.3,461.6 L195.8,461.6 L196.3,461.6 L196.8,461.6 L197.3,461.2 L197.8,460.6 L198.0,460.5 L198.1,460.5 L198.3,460.5 L198.8,460.5 L199.3,460.5 L199.8,460.5 L200.3,460.5 L200.8,460.5 L201.2,460.5 L201.3,460.5 L201.8,460.5 L202.3,460.5 L202.8,460.5 L203.3,460.5 L203.8,460.5 L204.3,460.5 L204.8,460.5 L205.3,460.5 L205.8,460.5 L206.2,460.5 L206.3,460.5 L206.8,460.5 L207.3,460.5 L207.8,460.5 L208.3,460.5 L208.4,460.5 L208.8,460.8 L209.3,461.4 L209.4,461.5 L209.6,461.6 L209.8,461.6 L210.3,461.6 L210.8,461.6 L211.3,461.6 L211.8,461.6 L212.3,461.6 L212.8,461.6 L213.0,461.6 L213.3,461.6 L213.8,461.6 L214.3,461.6 L214.8,461.6 L215.3,461.6 L215.6,461.6 L215.6,461.6 L215.8,461.5 L216.3,460.9 L216.8,460.5 L217.3,460.5 L217.8,460.5 L218.3,460.5 L218.8,460.5 L218.8,460.5 L219.3,460.5 L219.8,460.5 L220.3,460.5 L220.8,460.5 L221.2,460.5 L221.3,460.5 L221.8,460.5 L222.3,460.5 L222.8,460.5 L223.0,460.5 L223.1,460.5 L223.3,460.7 L223.8,461.3 L224.2,461.6 L224.3,461.6 L224.8,461.6 L225.3,461.6 L225.8,461.6 L226.2,461.6 L226.3,461.6 L226.8,461.6 L227.3,461.6 L227.8,461.6 L228.3,461.6 L228.8,461.6 L229.3,461.6 L229.8,461.6 L230.3,461.6 L230.8,461.6 L231.3,461.6 L231.8,461.6 L232.3,461.6 L232.5,461.6 L232.6,461.6 L232.8,461.5 L233.3,460.9 L233.8,460.5 L234.3,460.5 L234.8,460.5 L235.3,460.5 L235.6,460.5 L235.8,460.5 L236.3,460.5 L236.8,460.5 L237.3,460.5 L237.8,460.5 L238.3,460.5 L238.8,460.5 L238.8,460.5 L239.3,460.5 L239.8,460.5 L240.3,460.5 L240.8,460.5 L241.3,460.5 L241.8,460.5 L242.3,460.5 L242.8,460.5 L243.3,460.5 L243.8,460.5 L243.8,460.5 L244.3,460.5 L244.8,460.5 L245.0,460.5 L245.3,460.7 L245.8,461.3 L246.2,461.6 L246.2,461.6 L246.3,461.6 L246.8,461.6 L247.3,461.6 L247.8,461.6 L248.3,461.6 L248.8,461.6 L249.3,461.6 L249.8,461.6 L250.3,461.6 L250.6,461.6 L250.8,461.6 L251.3,461.6 L251.8,461.6 L252.3,461.6 L252.5,461.6 L252.6,461.6 L252.8,461.5 L253.3,460.9 L253.8,460.5 L254.3,460.5 L254.4,460.5 L254.8,460.5 L255.3,460.5 L255.8,460.5 L256.2,460.5 L256.3,460.5 L256.8,460.5 L257.3,460.5 L257.5,460.5 L257.8,460.7 L258.2,461.2 L258.3,461.3 L258.7,461.6 L258.8,461.6 L259.3,461.6 L259.8,461.6 L260.3,461.6 L260.8,461.6 L261.3,461.6 L261.8,461.6 L262.3,461.6 L262.5,461.6 L262.8,461.6 L263.3,461.6 L263.8,461.6 L264.3,461.6 L264.8,461.6 L265.3,461.6 L265.6,461.6 L265.8,461.6 L266.3,461.6 L266.8,461.6 L267.3,461.6 L267.5,461.6 L267.8,461.6 L268.3,461.6 L268.8,461.6 L269.3,461.2 L269.4,461.1 L269.8,460.6 L270.0,460.5 L270.2,460.5 L270.3,460.5 L270.8,460.5 L271.3,460.5 L271.8,460.5 L271.9,460.5 L272.3,460.5 L272.8,460.5 L273.3,460.5 L273.8,460.5 L274.3,460.5 L274.8,460.5 L275.3,460.5 L275.8,460.5 L276.0,460.5 L276.3,460.7 L276.8,461.3 L277.2,461.6 L277.3,461.6 L277.8,461.6 L278.1,461.6 L278.3,461.6 L278.8,461.6 L279.3,461.6 L279.8,461.6 L280.3,461.6 L280.8,461.6 L281.3,461.6 L281.8,461.6 L282.3,461.6 L282.8,461.6 L283.3,461.6 L283.8,461.6 L284.3,461.6 L284.4,461.6 L284.8,461.6 L285.3,461.6 L285.8,461.6 L286.3,461.6 L286.8,461.6 L287.3,461.6 L287.8,461.6 L288.3,461.6 L288.8,461.6 L289.3,461.6 L289.8,461.6 L290.3,461.6 L290.6,461.6 L290.8,461.6 L291.3,461.6 L291.8,461.6 L292.3,461.6 L292.8,461.6 L293.3,461.6 L293.8,461.6 L294.3,461.6 L294.8,461.6 L295.0,461.6 L295.3,461.6 L295.8,461.6 L296.3,461.6 L296.8,461.6 L297.3,461.6 L297.8,461.6 L298.3,461.6 L298.8,461.6 L299.3,461.6 L299.8,461.6 L300.0,461.6 L300.3,461.6 L300.8,461.6 L301.3,461.6 L301.8,461.6 L302.3,461.6 L302.8,461.6 L303.3,461.6 L303.8,461.6 L304.3,461.6 L304.8,461.6 L305.3,461.6 L305.8,461.6 L306.2,461.6 L306.3,461.6 L306.8,461.6 L307.3,461.6 L307.8,461.6 L308.3,461.6 L308.8,461.6 L309.3,461.6 L309.8,461.6 L310.0,461.6 L310.3,461.6 L310.8,461.6 L311.3,461.6 L311.8,461.6 L312.3,461.6 L312.6,461.6 L312.8,461.6 L313.3,461.6 L313.8,461.6 L314.3,461.6 L314.8,461.6 L315.3,461.6 L315.8,461.6 L316.3,461.6 L316.8,461.6 L317.3,461.6 L317.8,461.6 L318.3,461.6 L318.8,461.6 L319.3,461.6 L319.8,461.6 L320.3,461.6 L320.8,461.6 L321.3,461.6 L321.8,461.6 L322.3,461.6 L322.6,461.6 L322.8,461.6 L323.3,461.6 L323.8,461.6 L324.3,461.6 L324.8,461.6 L325.3,461.6 L325.8,461.6 L326.3,461.6 L326.8,461.6 L327.3,461.6 L327.8,461.6 L328.3,461.6 L328.8,461.6 L329.3,461.6 L329.8,461.6 L330.3,461.6 L330.8,461.6 L331.3,461.6 L331.4,461.6 L331.8,461.6 L332.3,461.6 L332.8,461.6 L333.3,461.6 L333.8,461.6 L334.3,461.6 L334.8,461.6 L335.3,461.6 L335.8,461.6 L336.3,461.6 L336.8,461.6 L337.3,461.6 L337.8,461.6 L338.3,461.6 L338.8,461.6 L339.3,461.6 L339.5,461.6 L339.8,461.6 L339.9,461.6 L340.3,459.6 L340.5,458.0 L340.8,456.7 L341.3,458.6 L341.7,460.0 L341.8,460.0 L342.3,459.8 L342.8,459.4 L343.1,459.1 L343.3,458.8 L343.5,458.4 L343.8,457.7 L344.1,456.8 L344.3,456.2 L344.8,455.1 L345.0,454.8 L345.3,454.5 L345.8,454.1 L346.2,453.8 L346.3,453.8 L346.8,453.6 L346.9,453.6 L347.3,453.6 L347.8,453.6 L348.3,453.7 L348.8,453.8 L349.2,453.9 L349.3,454.1 L349.7,456.4 L349.8,457.1 L350.2,459.1 L350.3,459.2 L350.8,459.8 L350.9,459.9 L351.3,460.1 L351.6,460.2 L351.8,460.2 L352.1,460.3 L352.3,460.3 L352.8,460.4 L353.3,460.5 L353.8,460.6 L354.3,460.7 L354.4,460.7 L354.8,460.7 L355.3,460.8 L355.8,460.8 L356.3,460.9 L356.4,460.9 L356.8,460.9 L357.3,460.9 L357.8,460.9 L358.1,460.9 L358.3,460.9 L358.8,460.9 L359.3,460.9 L359.8,460.9 L360.3,460.8 L360.6,460.8 L360.8,460.8 L361.3,460.8 L361.8,460.7 L362.3,460.7 L362.8,460.6 L363.3,460.6 L363.8,460.6 L364.3,460.5 L364.8,460.5 L365.3,460.4 L365.8,460.4 L366.3,460.3 L366.7,460.3 L366.8,460.3 L367.3,460.2 L367.5,460.2 L367.8,460.2 L368.3,460.1 L368.8,460.1 L369.3,460.0 L369.8,460.0 L370.0,460.0 L370.3,459.9 L370.8,459.9 L371.3,459.8 L371.8,459.8 L372.3,459.7 L372.8,459.7 L373.3,459.6 L373.8,459.6 L374.3,459.5 L374.8,459.5 L375.3,459.4 L375.8,459.4 L376.3,459.4 L376.8,459.3 L376.9,459.3 L377.3,459.3 L377.8,459.2 L378.3,459.2 L378.8,459.2 L379.3,459.1 L379.8,459.1 L380.3,459.0 L380.8,459.0 L381.3,459.0 L381.8,458.9 L382.0,458.9 L382.3,458.9 L382.8,458.9 L383.3,458.8 L383.8,458.8 L384.3,458.8 L384.8,458.7 L385.3,458.7 L385.8,458.6 L386.3,458.6 L386.8,458.6 L387.3,458.5 L387.8,458.5 L388.3,458.4 L388.8,458.4 L389.3,458.3 L389.8,458.3 L390.3,458.3 L390.8,458.2 L391.3,458.2 L391.8,458.1 L392.3,458.1 L392.8,458.0 L393.3,458.0 L393.8,457.9 L394.3,457.9 L394.8,457.8 L395.3,457.7 L395.7,457.7 L395.8,457.7 L396.3,457.6 L396.7,457.6 L396.8,457.5 L397.3,457.5 L397.8,457.4 L398.3,457.3 L398.8,457.2 L399.3,457.1 L399.8,457.0 L400.3,456.9 L400.8,456.8 L401.3,456.7 L401.8,456.7 L402.3,456.6 L402.8,456.5 L403.2,456.4 L403.3,456.4 L403.4,456.4 L403.8,456.3 L404.3,456.2 L404.8,456.1 L405.3,456.0 L405.8,455.9 L406.3,455.8 L406.8,455.7 L407.3,455.7 L407.8,455.6 L408.3,455.5 L408.8,455.4 L409.3,455.3 L409.8,455.2 L410.3,455.1 L410.8,455.0 L411.3,455.0 L411.8,454.9 L412.3,454.8 L412.5,454.8 L412.8,454.8 L413.3,454.7 L413.8,454.6 L414.3,454.6 L414.8,454.5 L415.3,454.5 L415.8,454.4 L416.3,454.4 L416.8,454.3 L417.3,454.3 L417.8,454.2 L418.3,454.2 L418.8,454.1 L419.3,454.1 L419.8,454.0 L420.0,454.0 L420.3,454.0 L420.8,453.9 L421.3,453.8 L421.7,453.8 L421.8,453.8 L422.3,453.7 L422.8,453.6 L423.3,453.6 L423.8,453.5 L424.3,453.4 L424.8,453.3 L425.3,453.3 L425.8,453.2 L426.3,453.1 L426.8,453.1 L427.3,453.0 L427.8,453.0 L428.3,452.9 L428.8,452.9 L429.3,452.8 L429.4,452.8 L429.8,452.8 L430.3,452.7 L430.8,452.7 L431.3,452.6 L431.7,452.6 L431.8,452.6 L432.3,452.6 L432.8,452.5 L433.3,452.5 L433.8,452.4 L434.3,452.4 L434.8,452.4 L435.3,452.4 L435.8,452.3 L436.3,452.3 L436.8,452.3 L437.3,452.2 L437.8,452.2 L438.3,452.2 L438.8,452.2 L439.3,452.2 L439.8,452.2 L440.3,452.2 L440.8,452.2 L441.3,452.1 L441.7,452.1 L441.8,452.1 L442.3,452.1 L442.8,452.1 L443.3,452.1 L443.8,452.1 L444.3,452.1 L444.8,452.1 L445.3,452.1 L445.8,452.1 L446.3,452.0 L446.8,452.0 L447.3,452.0 L447.8,452.0 L448.3,452.0 L448.8,452.0 L449.3,452.0 L449.8,452.0 L450.0,452.0 L450.3,452.0 L450.8,452.0 L451.3,452.0 L451.8,452.0 L452.3,452.0 L452.8,452.0 L453.3,452.0 L453.8,452.0 L454.3,452.0 L454.8,452.0 L455.3,452.0 L455.8,452.0 L456.3,452.0 L456.8,452.0 L457.3,452.0 L457.8,452.0 L458.3,452.0 L458.7,452.0 L458.8,452.0 L459.3,452.0 L459.8,452.0 L460.3,452.0 L460.8,452.0 L461.3,452.0 L461.8,452.0 L462.3,452.0 L462.8,452.0 L463.3,452.0 L463.8,452.0 L464.3,452.0 L464.8,452.0 L465.3,452.0 L465.8,452.0 L466.3,452.0 L466.8,452.0 L466.9,452.0 L467.3,452.0 L467.8,452.0 L468.3,452.0 L468.8,452.0 L469.3,452.0 L469.8,452.0 L470.3,452.0 L470.8,452.0 L471.3,452.0 L471.8,452.0 L472.3,452.0 L472.8,452.0 L473.3,452.0 L473.8,452.0 L474.3,452.0 L474.8,452.0 L475.3,452.0 L475.8,452.0 L476.0,452.0 L476.3,452.1 L476.8,452.1 L477.3,452.1 L477.8,452.1 L478.3,452.1 L478.8,452.1 L479.3,452.1 L479.8,452.1 L480.3,452.1 L480.8,452.1 L481.0,452.1 L481.3,452.1 L481.8,452.1 L482.2,452.1 L482.3,452.1 L482.8,452.1 L483.3,452.1 L483.8,452.1 L484.3,452.1 L484.8,452.2 L485.3,452.2 L485.8,452.2 L486.3,452.2 L486.8,452.2 L487.3,452.2 L487.6,452.2 L487.8,452.2 L488.3,452.2 L488.4,452.2 L488.8,452.2 L489.3,452.3 L489.7,452.3 L489.8,452.3 L490.3,452.3 L490.5,452.3 L490.8,452.3 L491.3,452.3 L491.8,452.3 L492.0,452.4 L492.3,452.4 L492.6,452.4 L492.8,452.4 L493.3,452.4 L493.4,452.4 L493.8,452.4 L494.3,452.5 L494.4,452.5 L494.8,452.5 L494.9,452.5 L495.0,452.5 L495.3,452.5 L495.8,452.6 L495.9,452.6 L496.3,452.6 L496.8,452.7 L497.3,452.8 L497.4,452.8 L497.8,452.9 L498.3,453.0 L498.8,453.2 L499.3,453.3 L499.5,453.3 L499.7,453.4 L499.8,453.4 L500.3,453.6 L500.8,453.8 L501.3,454.0 L501.8,454.2 L502.3,454.5 L502.6,454.6 L502.8,454.7 L503.3,454.9 L503.8,455.1 L504.3,455.3 L504.4,455.3 L504.8,455.4 L505.3,455.5 L505.8,455.7 L506.3,455.8 L506.8,455.9 L507.3,456.0 L507.4,456.0 L507.8,456.1 L508.3,456.2 L508.8,456.3 L509.3,456.4 L509.8,456.5 L510.0,456.5 L510.3,456.6 L510.8,456.7 L511.3,456.8 L511.8,456.9 L512.3,457.0 L512.8,457.1 L513.3,457.2 L513.8,457.3 L514.3,457.3 L514.7,457.4 L514.8,457.4 L515.3,457.5 L515.8,457.5 L516.3,457.6 L516.8,457.7 L517.3,457.7 L517.8,457.8 L518.3,457.8 L518.8,457.9 L519.3,457.9 L519.4,457.9 L519.8,457.9 L520.3,458.0 L520.8,458.0 L521.3,458.0 L521.4,458.0 L521.8,458.0 L522.3,458.1 L522.8,458.1 L523.3,458.1 L523.8,458.1 L524.3,458.2 L524.8,458.2 L525.2,458.2 L525.3,458.2 L525.8,458.2 L526.3,458.2 L526.8,458.3 L527.3,458.3 L527.8,458.3 L528.3,458.3 L528.8,458.3 L529.3,458.3 L529.8,458.4 L530.3,458.4 L530.8,458.4 L531.3,458.4 L531.8,458.4 L532.3,458.4 L532.8,458.4 L533.3,458.5 L533.8,458.5 L534.3,458.5 L534.8,458.5 L535.3,458.5 L535.6,458.5 L535.8,458.5 L536.3,458.5 L536.8,458.6 L537.3,458.6 L537.8,458.6 L538.1,458.6 L538.3,458.6 L538.8,458.6 L539.3,458.6 L539.8,458.7 L540.3,458.7 L540.8,458.7 L541.3,458.7 L541.8,458.7 L542.3,458.7 L542.8,458.7 L543.3,458.8 L543.8,458.8 L544.3,458.8 L544.8,458.8 L545.3,458.8 L545.8,458.8 L546.3,458.8 L546.8,458.9 L547.3,458.9 L547.8,458.9 L548.3,458.9 L548.8,458.9 L549.3,458.9 L549.8,458.9 L550.3,458.9 L550.8,459.0 L551.3,459.0 L551.8,459.0 L552.3,459.0 L552.8,459.0 L553.3,459.0 L553.8,459.0 L554.3,459.0 L554.8,459.1 L555.3,459.1 L555.8,459.1 L556.3,459.1 L556.8,459.1 L556.9,459.1 L557.3,459.1 L557.8,459.1 L558.3,459.1 L558.8,459.1 L559.3,459.1 L559.8,459.2 L560.3,459.2 L560.8,459.2 L561.3,459.2 L561.7,459.2 L561.8,459.2 L562.3,459.2 L562.8,459.2 L563.3,459.2 L563.8,459.2 L564.3,459.2 L564.8,459.3 L565.3,459.3 L565.8,459.3 L565.9,459.3 L566.3,459.3 L566.8,459.3 L567.3,459.3 L567.8,459.3 L568.3,459.3 L568.8,459.3 L569.3,459.3 L569.8,459.3 L570.3,459.3 L570.8,459.4 L571.3,459.4 L571.8,459.4 L572.3,459.4 L572.8,459.4 L573.3,459.4 L573.8,459.4 L574.3,459.4 L574.8,459.4 L575.3,459.4 L575.7,459.4 L575.8,459.4 L576.3,459.4 L576.8,459.4 L577.3,459.4 L577.8,459.4 L578.3,459.4 L578.8,459.4 L579.3,459.4 L579.8,459.4 L580.3,459.4 L580.8,459.4 L581.3,459.4 L581.8,459.4 L582.3,459.4 L582.6,459.4 L582.8,459.4 L583.3,459.4 L583.8,459.5 L584.3,459.5 L584.8,459.5 L585.3,459.5 L585.8,459.5 L586.3,459.5 L586.8,459.5 L587.3,459.5 L587.8,459.5 L588.3,459.5 L588.8,459.5 L589.3,459.5 L589.8,459.5 L590.3,459.5 L590.8,459.5 L591.3,459.5 L591.8,459.5 L592.3,459.5 L592.8,459.5 L593.3,459.5 L593.8,459.5 L594.3,459.5 L594.8,459.5 L595.3,459.5 L595.8,459.5 L596.3,459.5 L596.8,459.5 L597.3,459.5 L597.8,459.5 L598.3,459.5 L598.8,459.5 L599.3,459.5 L599.8,459.5 L600.0,459.5 L600.3,459.5 L600.8,459.5 L601.3,459.5 L601.8,459.5 L602.3,459.5 L602.6,459.5 L602.8,459.5 L603.3,459.5 L603.8,459.5 L604.3,459.5 L604.8,459.4 L605.3,459.4 L605.6,459.4 L605.8,459.4 L606.3,459.4 L606.8,459.4 L607.2,459.4 L607.3,459.4 L607.8,459.4 L608.3,459.3 L608.5,459.3 L608.8,459.3 L609.3,459.3 L609.8,459.3 L610.1,459.3 L610.3,459.3 L610.8,459.3 L611.3,459.2 L611.8,459.2 L612.3,459.2 L612.8,459.2 L613.3,459.2 L613.8,459.1 L614.3,459.1 L614.8,459.1 L614.9,459.1 L615.3,459.1 L615.8,459.0 L616.3,459.0 L616.8,459.0 L617.2,459.0 L617.3,459.0 L617.8,458.9 L618.3,458.9 L618.8,458.9 L619.3,458.9 L619.8,458.9 L620.3,458.8 L620.7,458.8 L620.8,458.8 L621.3,458.8 L621.8,458.7 L622.3,458.7 L622.7,458.7 L622.8,458.7 L623.3,458.6 L623.8,458.6 L624.3,458.6 L624.5,458.6 L624.8,458.5 L625.3,458.5 L625.8,458.5 L626.3,458.4 L626.8,458.4 L627.3,458.3 L627.8,458.3 L628.0,458.3 L628.3,458.2 L628.8,458.2 L629.3,458.1 L629.8,458.1 L630.3,458.0 L630.8,458.0 L631.3,457.9 L631.8,457.9 L632.2,457.8 L632.3,457.8 L632.8,457.8 L633.3,457.7 L633.8,457.6 L634.3,457.6 L634.8,457.5 L635.3,457.4 L635.6,457.4 L635.8,457.4 L636.3,457.3 L636.4,457.3 L636.8,457.2 L637.3,457.1 L637.8,457.0 L638.3,456.8 L638.8,456.7 L639.3,456.6 L639.8,456.4 L640.3,456.3 L640.8,456.1 L641.0,456.1 L641.3,456.0 L641.8,455.9 L642.2,455.8 L642.3,455.8 L642.8,455.7 L643.3,455.6 L643.8,455.4 L644.3,455.3 L644.8,455.2 L645.3,455.1 L645.5,455.1 L645.8,455.0 L646.3,454.9 L646.8,454.8 L647.3,454.7 L647.8,454.6 L648.3,454.5 L648.6,454.5 L648.8,454.4 L649.3,454.3 L649.8,454.2 L650.3,454.1 L650.8,454.0 L651.3,454.0 L651.6,453.9 L651.8,453.9 L652.3,453.8 L652.8,453.7 L653.3,453.6 L653.8,453.5 L654.3,453.4 L654.8,453.4 L655.3,453.3 L655.8,453.2 L656.3,453.1 L656.8,453.1 L657.3,453.0 L657.8,452.9 L658.3,452.8 L658.8,452.8 L659.3,452.7 L659.8,452.6 L660.3,452.6 L660.8,452.5 L661.0,452.5 L661.3,452.5 L661.7,452.4 L661.8,452.4 L662.3,452.3 L662.8,452.3 L663.3,452.2 L663.8,452.2 L664.3,452.1 L664.8,452.0 L665.3,452.0 L665.8,451.9 L666.3,451.9 L666.8,451.8 L667.3,451.8 L667.8,451.7 L668.3,451.7 L668.8,451.7 L669.3,451.6 L669.8,451.6 L670.0,451.6 L670.3,451.6 L670.4,451.6 L670.8,451.6 L671.3,451.6 L671.8,451.6 L672.3,451.6 L672.8,451.5 L673.3,451.5 L673.8,451.5 L674.3,451.5 L674.8,451.5 L675.3,451.5 L675.8,451.5 L676.3,451.5 L676.8,451.5 L677.3,451.5 L677.8,451.5 L678.3,451.5 L678.4,451.5 L678.8,451.4 L679.3,451.4 L679.8,451.4 L680.3,451.4 L680.8,451.4 L681.3,451.4 L681.8,451.4 L682.3,451.4 L682.8,451.4 L683.3,451.4 L683.8,451.4 L684.3,451.4 L684.8,451.4 L685.3,451.4 L685.8,451.4 L686.3,451.4 L686.7,451.4 L686.8,451.4 L687.3,451.4 L687.8,451.4 L688.3,451.4 L688.8,451.4 L689.3,451.4 L689.8,451.4 L690.3,451.4 L690.8,451.4 L691.3,451.4 L691.8,451.4 L692.3,451.4 L692.8,451.4 L693.3,451.4 L693.4,451.4 L693.8,451.4 L694.3,451.4 L694.8,451.4 L695.3,451.4 L695.8,451.4 L696.3,451.4 L696.8,451.4 L697.0,451.4 L697.3,451.4 L697.8,451.4 L698.3,451.4 L698.8,451.5 L699.2,451.5 L699.3,451.5 L699.8,451.5 L700.3,451.6 L700.8,451.6 L701.3,451.7 L701.8,451.7 L702.3,451.8 L702.4,451.8 L702.8,451.9 L703.3,452.0 L703.8,452.1 L704.3,452.2 L704.8,452.4 L705.3,452.5 L705.8,452.7 L706.3,452.9 L706.8,453.0 L707.1,453.1 L707.3,453.2 L707.6,453.2 L707.8,453.3 L708.3,453.4 L708.8,453.5 L709.3,453.7 L709.8,453.8 L710.3,453.9 L710.8,454.0 L711.3,454.2 L711.8,454.3 L712.3,454.4 L712.8,454.5 L713.3,454.6 L713.4,454.6 L713.8,454.7 L713.9,454.7 L714.3,454.8 L714.8,454.9 L715.3,454.9 L715.8,455.0 L716.3,455.1 L716.8,455.2 L717.3,455.2 L717.8,455.3 L718.3,455.4 L718.8,455.4 L719.3,455.5 L719.8,455.5 L720.3,455.6 L720.7,455.6 L720.8,455.6 L721.3,455.6 L721.8,455.7 L722.3,455.7 L722.8,455.7 L723.3,455.8 L723.8,455.8 L724.3,455.8 L724.7,455.8 L724.8,455.8 L725.3,455.9 L725.8,455.9 L726.3,455.9 L726.8,455.9 L727.1,455.9 L727.3,456.0 L727.8,456.0 L728.3,456.0 L728.8,456.0 L729.3,456.0 L729.8,456.0 L730.2,456.0 L730.3,455.6 L730.7,450.3 L730.8,449.2 L731.3,443.8 L731.5,442.2 L731.7,441.0 L731.8,440.4 L732.3,438.1 L732.5,437.5 L732.8,436.8 L732.9,436.6 L733.3,435.8 L733.6,435.4 L733.8,435.1 L734.3,434.5 L734.5,434.4 L734.8,434.4 L735.0,434.4 L735.3,434.5 L735.6,434.6 L735.8,434.9 L735.9,435.3 L736.3,437.7 L736.5,439.3 L736.6,440.2 L736.8,443.3 L737.1,449.8 L737.3,452.4 L737.8,454.6 L738.1,455.6 L738.3,456.1 L738.8,456.9 L739.0,457.1 L739.2,457.2 L739.3,457.3 L739.8,457.6 L740.3,457.8 L740.8,458.0 L741.3,458.1 L741.7,458.2 L741.8,458.2 L742.3,458.3 L742.8,458.3 L743.2,458.4 L743.3,458.4 L743.8,458.4 L744.3,458.4 L744.8,458.5 L745.0,458.5 L745.3,458.5 L745.8,458.6 L746.3,458.6 L746.8,458.7 L747.3,458.7 L747.4,458.7 L747.8,458.8 L748.3,458.8 L748.8,458.9 L749.3,458.9 L749.8,459.0 L750.0,459.0 L750.3,459.0 L750.8,459.1 L751.3,459.1 L751.8,459.1 L752.3,459.2 L752.8,459.2 L753.3,459.3 L753.8,459.3 L754.2,459.3 L754.3,459.3 L754.8,459.4 L755.3,459.4 L755.8,459.5 L756.3,459.5 L756.8,459.5 L757.3,459.6 L757.8,459.6 L758.3,459.6 L758.8,459.7 L759.3,459.7 L759.8,459.7 L760.0,459.7 L760.3,459.8 L760.8,459.8 L761.3,459.8 L761.8,459.9 L762.3,459.9 L762.5,459.9 L762.8,459.9 L763.3,460.0 L763.8,460.0 L764.3,460.0 L764.8,460.0 L765.3,460.1 L765.8,460.1 L766.3,460.1 L766.7,460.2 L766.8,460.2 L767.3,460.2 L767.8,460.2 L768.3,460.3 L768.8,460.3 L769.3,460.3 L769.8,460.4 L770.3,460.4 L770.8,460.4 L771.3,460.4 L771.8,460.5 L772.3,460.5 L772.8,460.5 L773.3,460.5 L773.8,460.6 L774.3,460.6 L774.8,460.6 L775.0,460.6 L775.3,460.6 L775.8,460.6 L776.3,460.6 L776.8,460.7 L777.3,460.7 L777.8,460.7 L778.3,460.7 L778.8,460.7 L779.3,460.7 L779.8,460.7 L780.3,460.8 L780.8,460.8 L781.3,460.8 L781.8,460.8 L782.3,460.8 L782.8,460.8 L783.3,460.8 L783.4,460.8 L783.8,460.9 L784.3,460.9 L784.8,460.9 L785.3,460.9 L785.8,460.9 L786.3,460.9 L786.8,460.9 L787.3,460.9 L787.8,460.9 L788.3,461.0 L788.8,461.0 L789.3,461.0 L789.8,461.0 L790.3,461.0 L790.8,461.0 L791.3,461.0 L791.8,461.0 L792.3,461.0 L792.8,461.0 L793.3,461.0 L793.8,461.0" stroke="#8516D1" stroke-width="1.4"/><path d="M125.3,461.4 L793.8,461.4" stroke="#3BAA32" stroke-width="1.15"/><path d="M125.3,461.5 L125.6,300.0 L125.8,150.0 L125.9,63.0 L126.2,59.5 L126.3,59.3 L126.8,59.3 L127.0,59.4 L127.3,59.5 L127.8,64.1 L127.9,66.0 L128.3,100.0 L128.8,180.0 L129.2,222.7 L129.3,231.6 L129.4,240.0 L129.8,267.9 L129.9,275.0 L130.3,309.5 L130.7,340.0 L130.8,345.4 L131.3,370.1 L131.8,386.3 L131.9,388.0 L132.0,389.3 L132.3,392.0 L132.6,394.1 L132.8,396.0 L132.9,397.2 L133.3,403.4 L133.7,409.4 L133.8,410.6 L134.3,415.7 L134.8,420.3 L135.0,422.0 L135.1,422.9 L135.3,424.7 L135.8,428.9 L136.0,430.5 L136.3,432.4 L136.8,435.0 L137.0,435.9 L137.3,437.1 L137.6,438.0 L137.8,438.5 L138.0,439.1 L138.3,439.7 L138.8,440.2 L138.8,440.2 L139.3,440.2 L139.8,440.1 L140.3,440.0 L140.8,439.8 L141.0,439.8 L141.2,439.7 L141.3,439.7 L141.8,439.5 L142.3,439.2 L142.8,439.0 L143.1,438.8 L143.3,438.7 L143.6,438.5 L143.8,438.4 L144.3,438.1 L144.8,437.8 L145.3,437.5 L145.8,437.4 L146.2,437.3 L146.3,437.3 L146.8,437.3 L147.3,437.4 L147.8,437.4 L148.3,437.5 L148.8,437.6 L149.0,437.6 L149.3,437.7 L149.4,437.7 L149.8,437.8 L150.2,437.8 L150.3,437.9 L150.8,438.0 L151.3,438.1 L151.8,438.2 L152.3,438.3 L152.8,438.4 L153.3,438.5 L153.8,438.6 L153.8,438.6 L154.3,438.7 L154.8,438.8 L155.3,438.9 L155.8,439.0 L156.3,439.0 L156.8,439.1 L157.3,439.1 L157.5,439.1 L157.8,439.1 L158.3,439.0 L158.8,438.9 L159.3,438.8 L159.8,438.7 L160.0,438.6 L160.3,438.5 L160.8,438.2 L161.3,437.9 L161.8,437.6 L162.3,437.4 L162.5,437.4 L162.8,437.4 L163.3,437.4 L163.8,437.5 L164.3,437.6 L164.8,437.7 L165.3,437.8 L165.8,437.9 L166.2,438.0 L166.3,438.0 L166.8,438.1 L167.3,438.2 L167.8,438.2 L168.3,438.3 L168.8,438.4 L169.3,438.5 L169.8,438.6 L170.0,438.6 L170.3,438.7 L170.8,438.8 L171.3,438.9 L171.8,439.1 L172.3,439.2 L172.5,439.2 L172.8,439.3 L173.0,439.4 L173.3,439.5 L173.8,439.7 L174.2,439.8 L174.3,439.8 L174.8,439.9 L175.0,439.9 L175.3,439.9 L175.8,439.9 L176.3,439.8 L176.8,439.7 L177.3,439.6 L177.8,439.5 L178.3,439.4 L178.8,439.2 L178.8,439.2 L179.3,439.1 L179.8,438.8 L180.3,438.5 L180.8,438.3 L181.0,438.2 L181.3,438.1 L181.8,438.0 L181.9,438.0 L182.3,438.0 L182.8,438.1 L183.3,438.2 L183.8,438.3 L184.3,438.4 L184.8,438.5 L185.0,438.6 L185.3,438.7 L185.5,438.7 L185.8,438.9 L186.3,439.1 L186.7,439.2 L186.8,439.3 L187.3,439.5 L187.8,439.7 L188.1,439.8 L188.3,439.8 L188.8,440.0 L189.3,440.1 L189.8,440.3 L190.3,440.4 L190.8,440.5 L191.2,440.5 L191.3,440.5 L191.8,440.5 L192.3,440.5 L192.8,440.6 L193.3,440.6 L193.8,440.6 L194.3,440.6 L194.8,440.6 L195.0,440.6 L195.3,440.6 L195.8,440.3 L196.3,440.0 L196.8,439.5 L197.3,439.2 L197.8,438.9 L198.0,438.9 L198.1,438.9 L198.3,438.9 L198.8,438.9 L199.3,439.0 L199.8,439.1 L200.3,439.2 L200.8,439.2 L201.2,439.2 L201.3,439.2 L201.8,439.2 L202.3,439.2 L202.8,439.1 L203.3,439.1 L203.8,439.0 L204.3,438.9 L204.8,438.9 L205.3,438.8 L205.8,438.8 L206.2,438.8 L206.3,438.8 L206.8,438.8 L207.3,439.0 L207.8,439.3 L208.3,439.6 L208.4,439.6 L208.8,439.8 L209.3,439.9 L209.4,439.9 L209.6,439.9 L209.8,439.9 L210.3,439.9 L210.8,440.0 L211.3,440.0 L211.8,440.0 L212.3,440.0 L212.8,440.0 L213.0,440.0 L213.3,440.0 L213.8,439.9 L214.3,439.9 L214.8,439.8 L215.3,439.7 L215.6,439.6 L215.6,439.6 L215.8,439.5 L216.3,439.3 L216.8,439.1 L217.3,438.8 L217.8,438.5 L218.3,438.4 L218.8,438.3 L218.8,438.3 L219.3,438.3 L219.8,438.4 L220.3,438.6 L220.8,438.7 L221.2,438.9 L221.3,438.9 L221.8,439.2 L222.3,439.5 L222.8,439.8 L223.0,439.9 L223.1,439.9 L223.3,439.9 L223.8,440.0 L224.2,440.1 L224.3,440.1 L224.8,440.1 L225.3,440.2 L225.8,440.2 L226.2,440.2 L226.3,440.2 L226.8,440.2 L227.3,440.2 L227.8,440.2 L228.3,440.2 L228.8,440.2 L229.3,440.2 L229.8,440.2 L230.3,440.2 L230.8,440.2 L231.3,440.2 L231.8,440.2 L232.3,440.2 L232.5,440.2 L232.6,440.2 L232.8,440.2 L233.3,439.9 L233.8,439.5 L234.3,439.1 L234.8,438.7 L235.3,438.4 L235.6,438.3 L235.8,438.3 L236.3,438.2 L236.8,438.1 L237.3,438.1 L237.8,438.0 L238.3,438.0 L238.8,438.0 L238.8,438.0 L239.3,438.0 L239.8,438.0 L240.3,438.1 L240.8,438.1 L241.3,438.2 L241.8,438.3 L242.3,438.3 L242.8,438.4 L243.3,438.5 L243.8,438.6 L243.8,438.6 L244.3,438.8 L244.8,439.0 L245.0,439.1 L245.3,439.3 L245.8,439.5 L246.2,439.6 L246.2,439.6 L246.3,439.6 L246.8,439.7 L247.3,439.8 L247.8,439.8 L248.3,439.9 L248.8,439.9 L249.3,439.9 L249.8,439.8 L250.3,439.7 L250.6,439.6 L250.8,439.5 L251.3,438.9 L251.8,438.0 L252.3,437.2 L252.5,436.9 L252.6,436.8 L252.8,436.5 L253.3,436.0 L253.8,435.4 L254.3,435.1 L254.4,435.0 L254.8,434.8 L255.3,434.6 L255.8,434.4 L256.2,434.4 L256.3,434.4 L256.8,434.4 L257.3,434.6 L257.5,434.6 L257.8,434.7 L258.2,434.8 L258.3,434.8 L258.7,435.0 L258.8,435.0 L259.3,435.2 L259.8,435.4 L260.3,435.6 L260.8,435.8 L261.3,436.1 L261.8,436.3 L262.3,436.4 L262.5,436.5 L262.8,436.6 L263.3,436.7 L263.8,436.9 L264.3,437.0 L264.8,437.1 L265.3,437.2 L265.6,437.2 L265.8,437.2 L266.3,437.2 L266.8,437.1 L267.3,437.0 L267.5,437.0 L267.8,436.8 L268.3,435.7 L268.8,434.4 L269.3,432.3 L269.4,432.2 L269.8,432.2 L270.0,432.3 L270.2,432.3 L270.3,432.3 L270.8,432.5 L271.3,432.8 L271.8,433.1 L271.9,433.1 L272.3,433.2 L272.8,433.3 L273.3,433.4 L273.8,433.5 L274.3,433.5 L274.8,433.6 L275.3,433.7 L275.8,433.7 L276.0,433.7 L276.3,433.8 L276.8,433.9 L277.2,433.9 L277.3,433.9 L277.8,434.0 L278.1,434.1 L278.3,434.1 L278.8,434.3 L279.3,434.5 L279.8,434.7 L280.3,434.9 L280.8,435.1 L281.3,435.3 L281.8,435.5 L282.3,435.8 L282.8,436.1 L283.3,436.4 L283.8,436.7 L284.3,436.9 L284.4,436.9 L284.8,437.0 L285.3,437.2 L285.8,437.3 L286.3,437.4 L286.8,437.6 L287.3,437.7 L287.8,437.8 L288.3,437.9 L288.8,438.0 L289.3,438.0 L289.8,438.1 L290.3,438.1 L290.6,438.1 L290.8,438.1 L291.3,438.1 L291.8,438.0 L292.3,437.9 L292.8,437.8 L293.3,437.7 L293.8,437.6 L294.3,437.5 L294.8,437.3 L295.0,437.3 L295.3,437.2 L295.8,437.1 L296.3,436.9 L296.8,436.8 L297.3,436.6 L297.8,436.5 L298.3,436.3 L298.8,436.2 L299.3,436.0 L299.8,435.9 L300.0,435.9 L300.3,435.9 L300.8,435.8 L301.3,435.7 L301.8,435.6 L302.3,435.6 L302.8,435.5 L303.3,435.5 L303.8,435.4 L304.3,435.4 L304.8,435.3 L305.3,435.3 L305.8,435.3 L306.2,435.3 L306.3,435.3 L306.8,435.3 L307.3,435.4 L307.8,435.6 L308.3,435.8 L308.8,435.9 L309.3,436.1 L309.8,436.2 L310.0,436.2 L310.3,436.3 L310.8,436.4 L311.3,436.5 L311.8,436.5 L312.3,436.6 L312.6,436.6 L312.8,436.6 L313.3,436.7 L313.8,436.7 L314.3,436.7 L314.8,436.8 L315.3,436.8 L315.8,436.8 L316.3,436.8 L316.8,436.9 L317.3,436.9 L317.8,436.9 L318.3,436.9 L318.8,437.0 L319.3,437.0 L319.8,437.0 L320.3,437.0 L320.8,437.0 L321.3,437.1 L321.8,437.1 L322.3,437.1 L322.6,437.1 L322.8,437.1 L323.3,437.1 L323.8,437.1 L324.3,437.2 L324.8,437.2 L325.3,437.2 L325.8,437.2 L326.3,437.2 L326.8,437.2 L327.3,437.2 L327.8,437.3 L328.3,437.3 L328.8,437.3 L329.3,437.3 L329.8,437.3 L330.3,437.3 L330.8,437.3 L331.3,437.3 L331.4,437.3 L331.8,437.3 L332.3,437.3 L332.8,437.3 L333.3,437.3 L333.8,437.3 L334.3,437.3 L334.8,437.3 L335.3,437.3 L335.8,437.3 L336.3,437.3 L336.8,437.3 L337.3,437.3 L337.8,437.3 L338.3,437.3 L338.8,436.8 L339.3,435.9 L339.5,435.5 L339.8,434.9 L339.9,434.7 L340.3,433.7 L340.5,433.1 L340.8,432.2 L341.3,430.3 L341.7,428.6 L341.8,428.2 L342.3,425.8 L342.8,423.3 L343.1,421.6 L343.3,420.2 L343.5,418.5 L343.8,414.5 L344.1,409.4 L344.3,406.0 L344.8,397.2 L345.0,394.3 L345.3,390.7 L345.8,385.7 L346.2,382.1 L346.3,381.2 L346.8,377.1 L346.9,376.3 L347.3,373.4 L347.8,370.0 L348.3,367.1 L348.8,364.5 L349.2,362.4 L349.3,361.8 L349.7,359.5 L349.8,358.9 L350.2,356.2 L350.3,355.4 L350.8,351.8 L350.9,351.0 L351.3,347.7 L351.6,345.0 L351.8,343.4 L352.1,341.3 L352.3,340.2 L352.8,338.0 L353.3,335.9 L353.8,333.9 L354.3,332.6 L354.4,332.4 L354.8,331.9 L355.3,331.4 L355.8,331.0 L356.3,330.8 L356.4,330.8 L356.8,330.9 L357.3,331.3 L357.8,331.9 L358.1,332.2 L358.3,332.4 L358.8,333.0 L359.3,333.6 L359.8,334.2 L360.3,334.6 L360.6,334.7 L360.8,334.7 L361.3,334.3 L361.8,333.7 L362.3,332.9 L362.8,332.1 L363.3,331.3 L363.8,330.5 L364.3,329.6 L364.8,328.7 L365.3,327.7 L365.8,326.8 L366.3,325.9 L366.7,325.2 L366.8,325.0 L367.3,324.2 L367.5,323.9 L367.8,323.4 L368.3,322.6 L368.8,321.8 L369.3,321.1 L369.8,320.4 L370.0,320.2 L370.3,319.8 L370.8,319.3 L371.3,318.7 L371.8,318.2 L372.3,317.7 L372.8,317.3 L373.3,316.9 L373.8,316.5 L374.3,316.2 L374.8,315.9 L375.3,315.6 L375.8,315.3 L376.3,315.0 L376.8,314.8 L376.9,314.8 L377.3,314.6 L377.8,314.4 L378.3,314.2 L378.8,314.1 L379.3,313.9 L379.8,313.8 L380.3,313.6 L380.8,313.5 L381.3,313.4 L381.8,313.3 L382.0,313.3 L382.3,313.3 L382.8,313.2 L383.3,313.1 L383.8,313.0 L384.3,313.0 L384.8,312.9 L385.3,312.9 L385.8,312.9 L386.3,312.9 L386.8,313.0 L387.3,313.0 L387.8,313.1 L388.3,313.3 L388.8,313.4 L389.3,313.5 L389.8,313.7 L390.3,313.8 L390.8,314.0 L391.3,314.2 L391.8,314.4 L392.3,314.6 L392.8,314.9 L393.3,315.2 L393.8,315.5 L394.3,315.8 L394.8,316.1 L395.3,316.3 L395.7,316.6 L395.8,316.6 L396.3,316.9 L396.7,317.1 L396.8,317.1 L397.3,317.4 L397.8,317.6 L398.3,317.8 L398.8,318.0 L399.3,318.2 L399.8,318.5 L400.3,318.7 L400.8,318.9 L401.3,319.1 L401.8,319.3 L402.3,319.5 L402.8,319.7 L403.2,319.9 L403.3,320.0 L403.4,320.0 L403.8,320.2 L404.3,320.4 L404.8,320.7 L405.3,320.9 L405.8,321.2 L406.3,321.4 L406.8,321.7 L407.3,321.9 L407.8,322.2 L408.3,322.5 L408.8,322.7 L409.3,323.0 L409.8,323.2 L410.3,323.5 L410.8,323.8 L411.3,324.0 L411.8,324.3 L412.3,324.5 L412.5,324.6 L412.8,324.7 L413.3,325.0 L413.8,325.2 L414.3,325.5 L414.8,325.7 L415.3,325.9 L415.8,326.2 L416.3,326.4 L416.8,326.6 L417.3,326.8 L417.8,327.1 L418.3,327.3 L418.8,327.5 L419.3,327.7 L419.8,328.0 L420.0,328.1 L420.3,328.2 L420.8,328.4 L421.3,328.6 L421.7,328.8 L421.8,328.8 L422.3,329.1 L422.8,329.3 L423.3,329.5 L423.8,329.7 L424.3,329.9 L424.8,330.1 L425.3,330.3 L425.8,330.6 L426.3,330.8 L426.8,331.0 L427.3,331.2 L427.8,331.4 L428.3,331.6 L428.8,331.8 L429.3,332.0 L429.4,332.0 L429.8,332.2 L430.3,332.4 L430.8,332.6 L431.3,332.8 L431.7,332.9 L431.8,332.9 L432.3,333.1 L432.8,333.3 L433.3,333.5 L433.8,333.7 L434.3,333.8 L434.8,334.0 L435.3,334.2 L435.8,334.4 L436.3,334.5 L436.8,334.7 L437.3,334.9 L437.8,335.0 L438.3,335.2 L438.8,335.4 L439.3,335.5 L439.8,335.7 L440.3,335.9 L440.8,336.0 L441.3,336.2 L441.7,336.3 L441.8,336.3 L442.3,336.5 L442.8,336.6 L443.3,336.8 L443.8,336.9 L444.3,337.1 L444.8,337.2 L445.3,337.4 L445.8,337.5 L446.3,337.7 L446.8,337.8 L447.3,337.9 L447.8,338.1 L448.3,338.2 L448.8,338.4 L449.3,338.5 L449.8,338.6 L450.0,338.7 L450.3,338.8 L450.8,338.9 L451.3,339.1 L451.8,339.2 L452.3,339.4 L452.8,339.5 L453.3,339.7 L453.8,339.8 L454.3,339.9 L454.8,340.1 L455.3,340.2 L455.8,340.4 L456.3,340.5 L456.8,340.7 L457.3,340.8 L457.8,340.9 L458.3,341.1 L458.7,341.2 L458.8,341.2 L459.3,341.4 L459.8,341.5 L460.3,341.7 L460.8,341.8 L461.3,341.9 L461.8,342.1 L462.3,342.2 L462.8,342.4 L463.3,342.5 L463.8,342.6 L464.3,342.8 L464.8,342.9 L465.3,343.1 L465.8,343.2 L466.3,343.3 L466.8,343.5 L466.9,343.5 L467.3,343.6 L467.8,343.7 L468.3,343.9 L468.8,344.0 L469.3,344.1 L469.8,344.3 L470.3,344.4 L470.8,344.6 L471.3,344.7 L471.8,344.8 L472.3,345.0 L472.8,345.1 L473.3,345.2 L473.8,345.4 L474.3,345.5 L474.8,345.6 L475.3,345.7 L475.8,345.9 L476.0,345.9 L476.3,346.0 L476.8,346.1 L477.3,346.2 L477.8,346.3 L478.3,346.4 L478.8,346.5 L479.3,346.6 L479.8,346.7 L480.3,346.8 L480.8,346.9 L481.0,347.0 L481.3,347.0 L481.8,347.1 L482.2,347.2 L482.3,347.2 L482.8,347.3 L483.3,347.5 L483.8,347.6 L484.3,347.7 L484.8,347.8 L485.3,347.9 L485.8,348.0 L486.3,348.0 L486.8,347.3 L487.3,346.1 L487.6,345.5 L487.8,345.2 L488.3,344.7 L488.4,344.7 L488.8,344.8 L489.3,345.2 L489.7,345.7 L489.8,345.8 L490.3,347.0 L490.5,347.6 L490.8,348.5 L491.3,350.5 L491.8,353.4 L492.0,354.7 L492.3,356.6 L492.6,358.8 L492.8,360.9 L493.3,367.8 L493.4,369.0 L493.8,373.4 L494.3,378.8 L494.4,380.0 L494.8,385.7 L494.9,387.1 L495.0,388.4 L495.3,392.3 L495.8,398.2 L495.9,399.2 L496.3,402.9 L496.8,407.1 L497.3,410.7 L497.4,411.4 L497.8,414.1 L498.3,417.4 L498.8,420.4 L499.3,422.7 L499.5,423.5 L499.7,424.2 L499.8,424.5 L500.3,426.0 L500.8,427.4 L501.3,428.5 L501.8,429.5 L502.3,430.4 L502.6,430.8 L502.8,431.1 L503.3,431.7 L503.8,432.2 L504.3,432.8 L504.4,432.9 L504.8,433.2 L505.3,433.7 L505.8,434.0 L506.3,434.4 L506.8,434.7 L507.3,435.0 L507.4,435.0 L507.8,435.2 L508.3,435.4 L508.8,435.6 L509.3,435.9 L509.8,436.1 L510.0,436.2 L510.3,436.3 L510.8,436.5 L511.3,436.6 L511.8,436.8 L512.3,437.0 L512.8,437.1 L513.3,437.2 L513.8,437.3 L514.3,437.3 L514.7,437.4 L514.8,437.4 L515.3,437.4 L515.8,437.4 L516.3,437.4 L516.8,437.3 L517.3,437.3 L517.8,437.2 L518.3,437.2 L518.8,437.1 L519.3,437.0 L519.4,437.0 L519.8,437.0 L520.3,436.9 L520.8,436.9 L521.3,436.8 L521.4,436.8 L521.8,436.8 L522.3,436.7 L522.8,436.7 L523.3,436.6 L523.8,436.6 L524.3,436.5 L524.8,436.5 L525.2,436.5 L525.3,436.5 L525.8,436.5 L526.3,436.5 L526.8,436.5 L527.3,436.5 L527.8,436.5 L528.3,436.5 L528.8,436.5 L529.3,436.5 L529.8,436.6 L530.3,436.6 L530.8,436.6 L531.3,436.6 L531.8,436.6 L532.3,436.6 L532.8,436.6 L533.3,436.6 L533.8,436.7 L534.3,436.7 L534.8,436.7 L535.3,436.7 L535.6,436.7 L535.8,436.7 L536.3,436.7 L536.8,436.7 L537.3,436.7 L537.8,436.8 L538.1,436.8 L538.3,436.8 L538.8,436.8 L539.3,436.8 L539.8,436.8 L540.3,436.8 L540.8,436.8 L541.3,436.9 L541.8,436.9 L542.3,436.9 L542.8,436.9 L543.3,436.9 L543.8,436.9 L544.3,436.9 L544.8,437.0 L545.3,437.0 L545.8,437.0 L546.3,437.0 L546.8,437.0 L547.3,437.0 L547.8,437.0 L548.3,437.0 L548.8,437.1 L549.3,437.1 L549.8,437.1 L550.3,437.1 L550.8,437.1 L551.3,437.1 L551.8,437.1 L552.3,437.1 L552.8,437.1 L553.3,437.1 L553.8,437.1 L554.3,437.1 L554.8,437.1 L555.3,437.2 L555.8,437.2 L556.3,437.2 L556.8,437.2 L556.9,437.2 L557.3,437.2 L557.8,437.2 L558.3,437.2 L558.8,437.2 L559.3,437.2 L559.8,437.2 L560.3,437.2 L560.8,437.2 L561.3,437.2 L561.7,437.2 L561.8,437.2 L562.3,437.1 L562.8,437.0 L563.3,436.9 L563.8,436.7 L564.3,436.6 L564.8,436.4 L565.3,436.3 L565.8,436.2 L565.9,436.2 L566.3,436.2 L566.8,436.2 L567.3,436.1 L567.8,436.1 L568.3,436.1 L568.8,436.1 L569.3,436.0 L569.8,436.0 L570.3,436.0 L570.8,436.0 L571.3,436.0 L571.8,436.0 L572.3,435.9 L572.8,435.9 L573.3,435.9 L573.8,435.9 L574.3,435.9 L574.8,435.9 L575.3,435.9 L575.7,435.9 L575.8,435.9 L576.3,435.9 L576.8,435.8 L577.3,435.8 L577.8,435.8 L578.3,435.8 L578.8,435.8 L579.3,435.8 L579.8,435.8 L580.3,435.8 L580.8,435.8 L581.3,435.8 L581.8,435.8 L582.3,435.8 L582.6,435.8 L582.8,435.8 L583.3,435.8 L583.8,435.8 L584.3,435.8 L584.8,435.8 L585.3,435.8 L585.8,435.8 L586.3,435.8 L586.8,435.8 L587.3,435.8 L587.8,435.8 L588.3,435.8 L588.8,435.8 L589.3,435.8 L589.8,435.8 L590.3,435.8 L590.8,435.8 L591.3,435.8 L591.8,435.8 L592.3,435.8 L592.8,435.8 L593.3,435.8 L593.8,435.8 L594.3,435.8 L594.8,435.8 L595.3,435.8 L595.8,435.8 L596.3,435.8 L596.8,435.8 L597.3,435.8 L597.8,435.8 L598.3,435.8 L598.8,435.8 L599.3,435.8 L599.8,435.8 L600.0,435.8 L600.3,435.8 L600.8,435.8 L601.3,435.8 L601.8,435.8 L602.3,435.8 L602.6,435.8 L602.8,435.6 L603.3,434.3 L603.8,432.1 L604.3,429.3 L604.8,426.3 L605.3,423.0 L605.6,421.0 L605.8,419.7 L606.3,416.4 L606.8,412.9 L607.2,409.3 L607.3,408.9 L607.8,403.4 L608.3,397.7 L608.5,396.0 L608.8,393.9 L609.3,391.0 L609.8,388.4 L610.1,386.9 L610.3,385.9 L610.8,383.4 L611.3,381.0 L611.8,378.7 L612.3,376.5 L612.8,374.4 L613.3,372.3 L613.8,370.3 L614.3,368.3 L614.8,366.4 L614.9,366.0 L615.3,364.4 L615.8,362.5 L616.3,360.6 L616.8,358.7 L617.2,357.2 L617.3,356.8 L617.8,355.1 L618.3,353.3 L618.8,351.6 L619.3,349.9 L619.8,348.3 L620.3,346.7 L620.7,345.5 L620.8,345.2 L621.3,343.7 L621.8,342.3 L622.3,341.0 L622.7,340.0 L622.8,339.8 L623.3,338.7 L623.8,337.8 L624.3,336.8 L624.5,336.4 L624.8,335.8 L625.3,334.7 L625.8,333.5 L626.3,332.4 L626.8,331.3 L627.3,330.2 L627.8,329.1 L628.0,328.7 L628.3,328.1 L628.8,327.1 L629.3,326.1 L629.8,325.2 L630.3,324.3 L630.8,323.4 L631.3,322.5 L631.8,321.7 L632.2,321.1 L632.3,321.0 L632.8,320.2 L633.3,319.5 L633.8,318.8 L634.3,318.1 L634.8,317.5 L635.3,316.9 L635.6,316.6 L635.8,316.3 L636.3,315.8 L636.4,315.7 L636.8,315.3 L637.3,314.8 L637.8,314.4 L638.3,313.9 L638.8,313.5 L639.3,313.1 L639.8,312.7 L640.3,312.4 L640.8,312.0 L641.0,311.9 L641.3,311.7 L641.8,311.4 L642.2,311.2 L642.3,311.1 L642.8,310.8 L643.3,310.5 L643.8,310.3 L644.3,310.1 L644.8,309.8 L645.3,309.7 L645.5,309.6 L645.8,309.5 L646.3,309.3 L646.8,309.2 L647.3,309.1 L647.8,309.0 L648.3,308.9 L648.6,308.9 L648.8,308.9 L649.3,309.0 L649.8,309.1 L650.3,309.2 L650.8,309.4 L651.3,309.5 L651.6,309.7 L651.8,309.8 L652.3,310.0 L652.8,310.2 L653.3,310.4 L653.8,310.6 L654.3,310.8 L654.8,311.1 L655.3,311.4 L655.8,311.7 L656.3,312.0 L656.8,312.3 L657.3,312.6 L657.8,312.9 L658.3,313.2 L658.8,313.6 L659.3,313.9 L659.8,314.2 L660.3,314.6 L660.8,314.9 L661.0,315.0 L661.3,315.2 L661.7,315.4 L661.8,315.5 L662.3,315.7 L662.8,316.0 L663.3,316.3 L663.8,316.6 L664.3,316.9 L664.8,317.2 L665.3,317.4 L665.8,317.7 L666.3,318.0 L666.8,318.3 L667.3,318.6 L667.8,318.8 L668.3,319.1 L668.8,319.4 L669.3,319.6 L669.8,319.9 L670.0,320.0 L670.3,320.2 L670.4,320.2 L670.8,320.4 L671.3,320.7 L671.8,320.9 L672.3,321.2 L672.8,321.4 L673.3,321.7 L673.8,321.9 L674.3,322.2 L674.8,322.4 L675.3,322.7 L675.8,322.9 L676.3,323.2 L676.8,323.4 L677.3,323.7 L677.8,323.9 L678.3,324.2 L678.4,324.2 L678.8,324.4 L679.3,324.6 L679.8,324.9 L680.3,325.1 L680.8,325.4 L681.3,325.6 L681.8,325.9 L682.3,326.1 L682.8,326.4 L683.3,326.6 L683.8,326.9 L684.3,327.1 L684.8,327.3 L685.3,327.5 L685.8,327.7 L686.3,327.9 L686.7,328.1 L686.8,328.1 L687.3,328.3 L687.8,328.5 L688.3,328.7 L688.8,328.9 L689.3,329.1 L689.8,329.3 L690.3,329.5 L690.8,329.7 L691.3,329.8 L691.8,330.0 L692.3,330.1 L692.8,330.2 L693.3,330.2 L693.4,330.2 L693.8,330.2 L694.3,330.2 L694.8,330.2 L695.3,330.3 L695.8,330.3 L696.3,330.3 L696.8,330.3 L697.0,330.3 L697.3,330.3 L697.8,330.3 L698.3,330.3 L698.8,330.3 L699.2,330.3 L699.3,330.3 L699.8,330.3 L700.3,330.3 L700.8,330.3 L701.3,330.3 L701.8,330.3 L702.3,330.3 L702.4,330.3 L702.8,330.3 L703.3,330.3 L703.8,330.3 L704.3,330.3 L704.8,330.3 L705.3,330.2 L705.8,330.2 L706.3,330.2 L706.8,330.2 L707.1,330.2 L707.3,330.2 L707.6,330.2 L707.8,330.2 L708.3,330.2 L708.8,330.1 L709.3,330.0 L709.8,329.9 L710.3,329.8 L710.8,329.6 L711.3,329.5 L711.8,329.3 L712.3,329.1 L712.8,329.0 L713.3,328.8 L713.4,328.8 L713.8,328.7 L713.9,328.6 L714.3,328.5 L714.8,328.3 L715.3,328.1 L715.8,327.9 L716.3,327.7 L716.8,327.5 L717.3,327.3 L717.8,327.1 L718.3,326.9 L718.8,326.6 L719.3,326.4 L719.8,326.2 L720.3,326.0 L720.7,325.8 L720.8,325.8 L721.3,325.6 L721.8,325.3 L722.3,325.1 L722.8,324.9 L723.3,324.6 L723.8,324.4 L724.3,324.1 L724.7,323.8 L724.8,323.7 L725.3,323.4 L725.8,323.0 L726.3,322.5 L726.8,321.9 L727.1,321.4 L727.3,320.9 L727.8,318.6 L728.3,317.1 L728.8,316.8 L729.3,316.6 L729.8,316.5 L730.2,316.5 L730.3,316.5 L730.7,316.6 L730.8,316.6 L731.3,316.8 L731.5,317.0 L731.7,317.1 L731.8,317.3 L732.3,321.5 L732.5,324.1 L732.8,328.0 L732.9,329.2 L733.3,334.4 L733.6,338.7 L733.8,341.4 L734.3,347.6 L734.5,350.1 L734.8,354.1 L735.0,357.1 L735.3,362.5 L735.6,368.8 L735.8,373.0 L735.9,375.0 L736.3,383.1 L736.5,387.1 L736.6,389.2 L736.8,393.5 L737.1,399.2 L737.3,402.1 L737.8,408.3 L738.1,411.4 L738.3,413.3 L738.8,417.5 L739.0,418.9 L739.2,420.0 L739.3,420.5 L739.8,422.6 L740.3,424.3 L740.8,425.8 L741.3,427.2 L741.7,428.3 L741.8,428.6 L742.3,429.9 L742.8,431.1 L743.2,432.0 L743.3,432.2 L743.8,433.2 L744.3,434.0 L744.8,434.8 L745.0,435.0 L745.3,435.3 L745.8,435.7 L746.3,436.1 L746.8,436.4 L747.3,436.7 L747.4,436.8 L747.8,437.1 L748.3,437.5 L748.8,438.0 L749.3,438.3 L749.8,438.5 L750.0,438.5 L750.3,438.5 L750.8,438.5 L751.3,438.5 L751.8,438.5 L752.3,438.4 L752.8,438.4 L753.3,438.4 L753.8,438.3 L754.2,438.3 L754.3,438.3 L754.8,438.2 L755.3,438.1 L755.8,438.0 L756.3,437.9 L756.8,437.7 L757.3,437.6 L757.8,437.4 L758.3,437.2 L758.8,437.0 L759.3,436.9 L759.8,436.8 L760.0,436.7 L760.3,436.6 L760.8,436.5 L761.3,436.4 L761.8,436.2 L762.3,436.1 L762.5,436.0 L762.8,436.0 L763.3,435.8 L763.8,435.7 L764.3,435.6 L764.8,435.5 L765.3,435.4 L765.8,435.3 L766.3,435.2 L766.7,435.2 L766.8,435.2 L767.3,435.2 L767.8,435.1 L768.3,435.1 L768.8,435.1 L769.3,435.0 L769.8,435.0 L770.3,435.0 L770.8,435.0 L771.3,434.9 L771.8,434.9 L772.3,434.9 L772.8,434.9 L773.3,434.9 L773.8,434.8 L774.3,434.8 L774.8,434.8 L775.0,434.8 L775.3,434.8 L775.8,434.8 L776.3,434.8 L776.8,434.7 L777.3,434.7 L777.8,434.7 L778.3,434.7 L778.8,434.7 L779.3,434.7 L779.8,434.7 L780.3,434.7 L780.8,434.7 L781.3,434.6 L781.8,434.6 L782.3,434.6 L782.8,434.6 L783.3,434.6 L783.4,434.6 L783.8,434.6 L784.3,434.6 L784.8,434.6 L785.3,434.5 L785.8,434.5 L786.3,434.5 L786.8,434.5 L787.3,434.5 L787.8,434.5 L788.3,434.5 L788.8,434.5 L789.3,434.4 L789.8,434.4 L790.3,434.4 L790.8,434.4 L791.3,434.4 L791.8,434.4 L792.3,434.3 L792.8,434.3 L793.3,434.3 L793.8,434.3" stroke="#000000" stroke-width="2.6"/></g><g font-family="Liberation Sans, sans-serif" font-size="14" fill="#262626"><text transform="translate(125.5,531) scale(0.95,1.0)" text-anchor="middle">0</text><text transform="translate(217.5,531) scale(0.95,1.0)" text-anchor="middle">500</text><text transform="translate(310.5,531) scale(0.95,1.0)" text-anchor="middle">1000</text><text transform="translate(403.5,531) scale(0.95,1.0)" text-anchor="middle">1500</text><text transform="translate(496.5,531) scale(0.95,1.0)" text-anchor="middle">2000</text><text transform="translate(589.5,531) scale(0.95,1.0)" text-anchor="middle">2500</text><text transform="translate(682.5,531) scale(0.95,1.0)" text-anchor="middle">3000</text><text transform="translate(775.5,531) scale(0.95,1.0)" text-anchor="middle">3500</text><text transform="translate(867.5,531) scale(0.95,1.0)" text-anchor="middle">4000</text><text transform="translate(119.5,48.2) scale(0.95,1.0)" text-anchor="end">8000</text><text transform="translate(119.5,100.2) scale(0.95,1.0)" text-anchor="end">7000</text><text transform="translate(119.5,153.2) scale(0.95,1.0)" text-anchor="end">6000</text><text transform="translate(119.5,205.2) scale(0.95,1.0)" text-anchor="end">5000</text><text transform="translate(119.5,257.2) scale(0.95,1.0)" text-anchor="end">4000</text><text transform="translate(119.5,310.2) scale(0.95,1.0)" text-anchor="end">3000</text><text transform="translate(119.5,362.2) scale(0.95,1.0)" text-anchor="end">2000</text><text transform="translate(119.5,414.2) scale(0.95,1.0)" text-anchor="end">1000</text><text transform="translate(119.5,467.2) scale(0.95,1.0)" text-anchor="end">0</text><text transform="translate(119.5,519.2) scale(0.95,1.0)" text-anchor="end">-1000</text></g><text transform="translate(497.3,549) scale(1.0,1.08)" text-anchor="middle" font-family="Liberation Sans, sans-serif" font-size="14.67" fill="#262626">Time (s)</text><text transform="translate(497,37) scale(1.0,1.08)" text-anchor="middle" font-family="Liberation Sans, sans-serif" font-weight="bold" font-size="14.67" text-rendering="geometricPrecision" fill="#000">Power Consumed (W)</text><rect x="731.5" y="57.5" width="124" height="89" fill="#fff" stroke="#262626" stroke-width="1" shape-rendering="crispEdges"/><path d="M735,65.90 H775" stroke="#1171BE" stroke-width="1.6"/><text x="778" y="69.90" font-family="Liberation Sans, sans-serif" font-size="12" fill="#262626">Compressor</text><path d="M735,80.30 H775" stroke="#DD5400" stroke-width="1.6"/><text x="778" y="84.30" font-family="Liberation Sans, sans-serif" font-size="12" fill="#262626">Motor Pump</text><path d="M735,94.70 H775" stroke="#EDB120" stroke-width="1.6"/><text x="778" y="98.70" font-family="Liberation Sans, sans-serif" font-size="12" fill="#262626">Battery Pump</text><path d="M735,109.10 H775" stroke="#8516D1" stroke-width="1.6"/><text x="778" y="113.10" font-family="Liberation Sans, sans-serif" font-size="12" fill="#262626">Fan</text><path d="M735,123.50 H775" stroke="#3BAA32" stroke-width="1.6"/><text x="778" y="127.50" font-family="Liberation Sans, sans-serif" font-size="12" fill="#262626">Blower</text><path d="M735,137.90 H775" stroke="#000" stroke-width="2.6"/><text x="778" y="141.90" font-family="Liberation Sans, sans-serif" font-size="12" fill="#262626">Total</text></svg>
</body></html>
